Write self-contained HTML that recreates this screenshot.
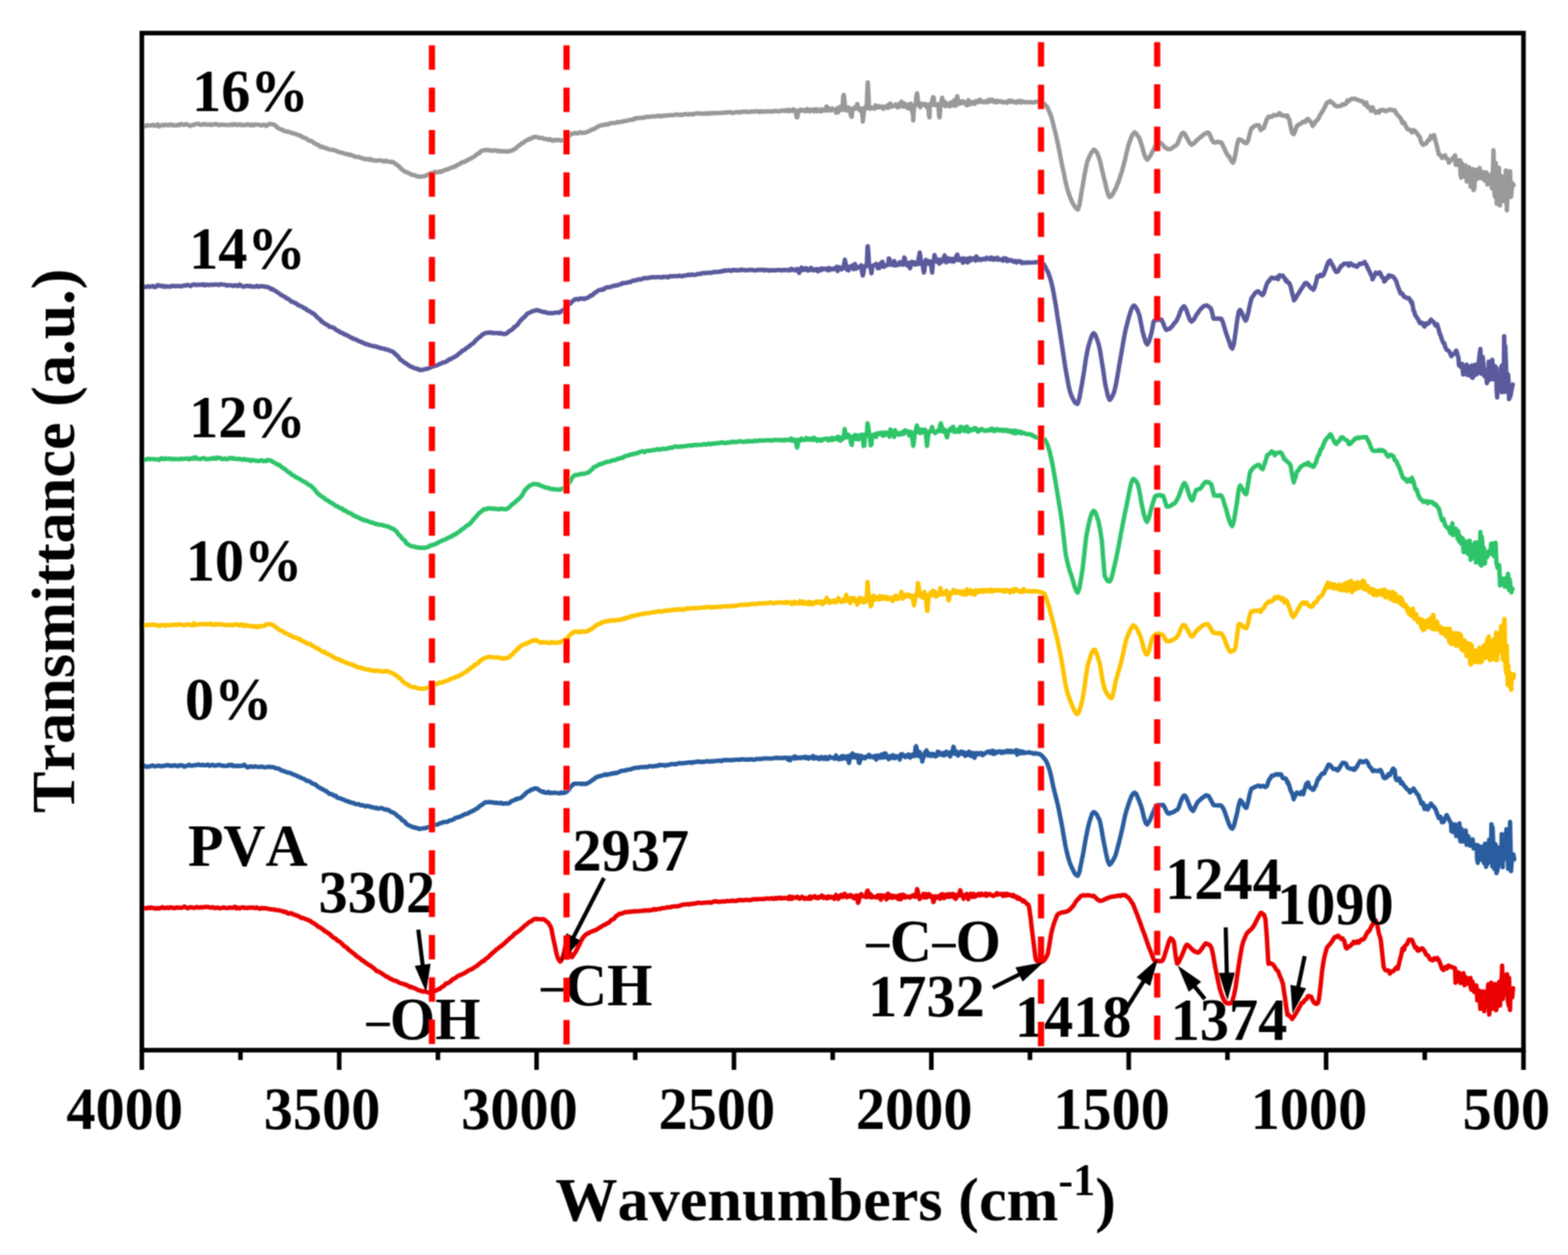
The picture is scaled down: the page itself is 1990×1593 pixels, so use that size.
<!DOCTYPE html>
<html><head><meta charset="utf-8"><title>FTIR spectra</title><style>
html,body{margin:0;padding:0;background:#fff;}svg{display:block}
text{font-family:"Liberation Serif","Times New Roman",serif;font-weight:bold;fill:#000;font-kerning:none}
</style></head><body>
<svg xmlns="http://www.w3.org/2000/svg" width="1990" height="1593" viewBox="0 0 1990 1593">
<rect x="0" y="0" width="1990" height="1593" fill="#fff"/>
<defs><filter id="soft" x="0" y="0" width="1990" height="1593" filterUnits="userSpaceOnUse"><feConvolveMatrix order="3" kernelMatrix="1 2 1 2 4 2 1 2 1" divisor="16" edgeMode="duplicate" preserveAlpha="false"/></filter></defs><g filter="url(#soft)">
<path d="M180.0 159.8 L182.0 158.9 L184.0 160.4 L186.0 159.0 L188.0 159.3 L190.0 159.3 L192.0 158.9 L194.0 158.4 L196.0 159.6 L198.0 159.3 L200.0 157.9 L202.0 160.4 L204.0 159.5 L206.0 158.4 L208.0 159.3 L210.0 158.4 L212.0 158.6 L214.0 159.1 L216.0 157.8 L218.0 158.9 L220.0 158.5 L222.0 159.3 L224.0 159.2 L226.0 158.2 L228.0 158.9 L230.0 157.3 L232.0 158.2 L234.0 158.5 L236.0 157.4 L238.0 158.1 L240.0 159.2 L242.0 159.7 L244.0 158.6 L246.0 158.6 L248.0 157.5 L250.0 157.3 L252.0 157.2 L254.0 158.3 L256.0 158.5 L258.0 157.6 L259.1 158.0 L260.0 157.3 L262.0 158.2 L264.0 158.2 L266.0 157.9 L268.0 158.8 L270.0 158.0 L272.0 158.0 L274.0 157.4 L276.0 158.2 L278.0 159.0 L280.0 158.2 L282.0 158.3 L284.0 158.5 L286.0 158.5 L288.0 158.6 L290.0 158.7 L292.0 158.8 L294.0 157.9 L296.0 158.6 L298.0 157.5 L300.0 158.5 L302.0 158.7 L304.0 157.8 L306.0 158.5 L308.0 158.9 L310.0 158.4 L312.0 158.7 L314.0 157.7 L316.0 158.2 L318.0 159.2 L320.0 158.1 L322.0 159.2 L324.0 158.0 L326.0 158.3 L328.0 158.2 L330.0 158.9 L332.0 159.2 L334.0 158.3 L336.0 158.8 L338.0 159.9 L338.3 158.9 L340.0 158.4 L342.0 157.3 L343.6 157.2 L344.0 157.4 L346.0 157.7 L348.0 158.6 L350.0 159.6 L352.0 162.1 L354.0 163.0 L355.9 164.2 L356.0 164.2 L358.0 164.6 L360.0 166.1 L362.0 166.5 L364.0 167.1 L366.0 167.2 L368.0 168.0 L370.0 168.7 L372.0 169.3 L373.5 169.5 L374.0 169.8 L376.0 170.4 L378.0 171.2 L380.0 171.9 L382.0 172.7 L384.0 174.2 L386.0 174.9 L388.0 175.3 L390.0 176.9 L391.0 177.4 L392.0 178.3 L394.0 178.8 L396.0 179.3 L398.0 181.0 L400.0 182.4 L402.0 183.3 L404.0 184.0 L406.0 185.8 L408.0 186.6 L408.6 186.2 L410.0 186.7 L412.0 187.7 L414.0 188.2 L416.0 188.9 L418.0 189.7 L420.0 190.0 L422.0 190.3 L424.0 190.6 L426.0 191.2 L426.2 191.5 L428.0 192.0 L430.0 193.1 L432.0 193.4 L434.0 193.9 L436.0 194.6 L438.0 195.1 L440.0 195.8 L442.0 195.8 L443.8 196.7 L444.0 196.1 L446.0 197.1 L448.0 197.4 L450.0 198.9 L452.0 198.9 L454.0 199.4 L456.0 199.4 L458.0 200.6 L460.0 200.7 L462.0 201.8 L464.0 202.1 L466.0 201.9 L468.0 202.7 L470.0 201.9 L470.2 202.9 L472.0 202.9 L474.0 203.8 L476.0 203.8 L478.0 203.8 L480.0 203.8 L482.0 203.5 L484.0 203.6 L486.0 204.3 L488.0 205.0 L490.0 203.8 L492.0 205.0 L494.0 205.3 L496.0 205.7 L496.6 205.5 L498.0 205.6 L500.0 206.6 L502.0 208.2 L504.0 209.4 L506.0 211.0 L508.0 212.9 L510.0 214.9 L512.0 216.6 L514.0 217.7 L514.2 217.8 L516.0 218.7 L518.0 219.4 L520.0 220.3 L522.0 221.7 L524.0 221.9 L525.0 222.2 L526.0 222.4 L528.0 223.2 L530.0 223.8 L532.0 224.2 L534.0 224.1 L535.6 224.0 L536.0 224.0 L538.0 223.8 L540.0 223.0 L542.0 222.5 L544.0 221.2 L546.0 220.4 L547.9 219.6 L548.0 219.6 L550.0 219.7 L552.0 218.1 L554.0 218.7 L556.0 218.5 L558.0 217.5 L558.4 217.8 L560.0 218.2 L562.0 216.8 L564.0 216.2 L566.0 215.2 L568.0 215.1 L570.0 214.1 L572.0 213.0 L574.0 212.5 L576.0 211.8 L577.8 210.8 L578.0 211.1 L580.0 209.9 L582.0 208.6 L584.0 207.8 L586.0 206.2 L588.0 205.7 L590.0 205.2 L592.0 204.0 L594.0 202.8 L596.0 201.6 L598.0 201.2 L598.9 200.2 L600.0 199.7 L602.0 198.6 L604.0 197.0 L606.0 195.2 L608.0 194.6 L610.0 192.3 L612.0 191.3 L614.0 190.8 L616.0 190.4 L616.5 190.6 L618.0 190.4 L620.0 190.5 L622.0 191.1 L624.0 190.9 L626.0 191.2 L628.0 190.7 L630.0 191.1 L632.0 192.0 L634.0 191.3 L636.0 192.3 L638.0 191.7 L640.0 192.3 L642.0 192.0 L644.0 192.4 L644.6 192.3 L646.0 191.8 L648.0 191.4 L650.0 191.1 L651.6 189.7 L652.0 189.4 L654.0 189.1 L656.0 186.9 L658.0 185.2 L660.0 184.0 L662.0 182.2 L664.0 181.4 L666.0 179.6 L668.0 178.4 L670.0 177.2 L671.0 176.5 L672.0 177.0 L674.0 175.6 L676.0 174.8 L678.0 173.8 L679.8 173.9 L680.0 173.6 L682.0 174.1 L684.0 174.7 L686.0 175.2 L688.0 175.0 L690.0 176.1 L692.0 176.5 L694.0 176.5 L696.0 177.4 L697.4 177.4 L698.0 176.7 L700.0 177.7 L702.0 178.6 L704.0 177.5 L706.0 178.0 L708.0 177.4 L710.0 177.9 L712.0 178.5 L714.0 177.9 L716.0 178.3 L716.7 178.3 L718.0 177.7 L720.0 175.5 L722.0 172.9 L724.0 170.5 L725.5 169.5 L726.0 169.8 L728.0 169.4 L730.0 168.7 L732.0 169.2 L734.0 169.0 L736.0 167.9 L738.0 168.6 L740.0 168.5 L742.0 168.4 L744.0 168.0 L744.8 167.7 L746.0 167.0 L748.0 166.5 L750.0 164.9 L752.0 164.3 L754.0 163.8 L756.0 162.2 L758.0 161.3 L758.9 160.7 L760.0 160.2 L762.0 159.4 L764.0 158.9 L766.0 158.8 L768.0 158.1 L770.0 157.7 L772.0 157.9 L774.0 156.6 L776.0 156.3 L778.0 156.2 L780.0 156.0 L782.0 155.7 L784.0 154.9 L786.0 155.1 L788.0 154.6 L788.8 154.5 L790.0 154.4 L792.0 153.5 L794.0 153.6 L796.0 153.2 L798.0 152.5 L800.0 152.2 L802.0 151.7 L804.0 152.0 L806.0 150.1 L808.0 150.3 L810.0 149.8 L812.0 149.9 L814.0 149.5 L816.0 149.3 L818.0 149.4 L820.0 148.3 L822.0 148.3 L824.0 148.4 L826.0 148.1 L828.0 147.6 L830.0 147.9 L832.0 147.7 L834.0 147.2 L836.0 146.7 L838.0 147.7 L840.0 147.1 L842.0 146.9 L844.0 146.7 L846.0 146.5 L848.0 146.6 L850.0 146.2 L852.0 145.9 L854.0 146.2 L856.0 145.9 L858.0 145.4 L860.0 145.3 L862.0 145.9 L864.0 145.6 L866.0 146.0 L868.0 145.0 L870.0 144.8 L872.0 145.1 L874.0 145.3 L875.0 144.8 L876.0 145.0 L878.0 144.8 L880.0 145.2 L882.0 144.2 L884.0 143.9 L886.0 144.0 L888.0 144.1 L890.0 144.3 L892.0 144.4 L894.0 144.1 L896.0 144.4 L898.0 143.5 L900.0 144.4 L902.0 143.4 L904.0 144.0 L906.0 143.2 L908.0 143.6 L910.0 143.4 L912.0 143.5 L914.0 143.5 L916.0 143.1 L918.0 143.1 L920.0 143.2 L922.0 142.5 L924.0 142.7 L926.0 142.3 L928.0 142.8 L930.0 143.5 L932.0 142.9 L934.0 142.3 L936.0 142.3 L938.0 142.8 L940.0 142.2 L940.3 142.4 L942.0 141.8 L944.0 141.9 L946.0 141.8 L948.0 141.8 L950.0 142.3 L952.0 142.0 L954.0 141.4 L956.0 141.7 L958.0 141.4 L960.0 141.3 L962.0 141.1 L964.0 142.2 L966.0 141.4 L968.0 141.6 L970.0 141.7 L972.0 141.2 L974.0 141.4 L976.0 141.4 L978.0 141.2 L980.0 141.8 L982.0 141.1 L984.0 140.8 L986.0 141.1 L988.0 141.4 L990.0 141.1 L991.0 140.6 L992.0 140.4 L993.0 140.7 L994.0 140.4 L995.0 140.4 L996.0 140.8 L997.0 140.9 L998.0 139.8 L999.0 140.5 L1000.0 139.5 L1001.0 141.1 L1002.0 141.3 L1003.0 139.8 L1004.0 140.0 L1005.0 139.6 L1006.0 140.8 L1007.0 138.9 L1008.0 139.4 L1009.0 139.8 L1009.7 140.4 L1010.0 142.0 L1011.0 148.7 L1011.7 149.0 L1012.0 148.5 L1013.0 141.7 L1013.7 140.3 L1014.0 140.4 L1015.0 139.5 L1016.0 140.6 L1017.0 139.2 L1018.0 139.8 L1019.0 140.1 L1020.0 140.6 L1021.0 140.0 L1022.0 141.2 L1023.0 140.2 L1024.0 138.4 L1025.0 140.9 L1026.0 139.8 L1027.0 139.4 L1028.0 141.4 L1029.0 139.1 L1030.0 140.0 L1031.0 140.0 L1032.0 139.3 L1033.0 141.2 L1034.0 139.6 L1035.0 140.1 L1036.0 138.6 L1037.0 141.2 L1038.0 138.9 L1039.0 140.7 L1040.0 140.8 L1041.0 140.9 L1042.0 141.4 L1043.0 138.7 L1044.0 140.0 L1045.0 139.7 L1046.0 139.9 L1047.0 140.4 L1047.4 139.4 L1048.0 138.6 L1049.0 135.2 L1049.4 135.5 L1050.0 136.2 L1051.0 140.3 L1051.4 139.3 L1052.0 138.2 L1053.0 139.3 L1054.0 138.4 L1055.0 140.2 L1056.0 137.7 L1057.0 138.8 L1058.0 139.0 L1059.0 139.1 L1060.0 139.0 L1061.0 143.0 L1062.0 141.6 L1063.0 137.2 L1064.0 142.6 L1065.0 136.9 L1066.0 135.7 L1067.0 136.3 L1068.0 139.1 L1068.9 138.7 L1069.0 139.4 L1070.0 124.4 L1070.9 120.5 L1071.0 121.4 L1072.0 130.4 L1072.9 138.5 L1073.0 139.7 L1074.0 137.8 L1075.0 140.0 L1076.0 139.4 L1077.0 136.3 L1078.0 140.8 L1078.5 138.3 L1079.0 140.1 L1080.0 147.3 L1080.5 147.5 L1081.0 148.2 L1082.0 138.0 L1082.5 138.2 L1083.0 138.0 L1084.0 136.7 L1085.0 136.5 L1086.0 138.0 L1087.0 135.4 L1088.0 132.0 L1089.0 135.5 L1090.0 137.9 L1091.0 140.1 L1092.0 140.1 L1092.9 137.8 L1093.0 137.8 L1094.0 142.8 L1094.9 149.0 L1095.0 154.4 L1096.0 146.1 L1096.9 137.6 L1097.0 137.4 L1098.0 136.0 L1099.0 136.8 L1099.3 137.5 L1100.0 137.5 L1101.0 109.4 L1101.3 104.5 L1102.0 115.7 L1103.0 136.9 L1103.3 137.3 L1104.0 138.0 L1105.0 136.8 L1106.0 137.5 L1107.0 136.7 L1108.0 137.3 L1109.0 136.9 L1110.0 137.9 L1111.0 133.8 L1112.0 136.3 L1113.0 136.4 L1114.0 134.9 L1115.0 136.4 L1116.0 134.8 L1117.0 135.4 L1118.0 135.9 L1119.0 135.9 L1120.0 135.3 L1121.0 138.0 L1122.0 136.4 L1123.0 136.5 L1124.0 136.2 L1125.0 134.6 L1126.0 134.1 L1127.0 137.0 L1128.0 134.8 L1129.0 132.3 L1130.0 131.5 L1131.0 135.5 L1132.0 133.8 L1133.0 134.9 L1134.0 134.0 L1135.0 134.1 L1136.0 134.4 L1137.0 132.5 L1138.0 134.6 L1139.0 136.2 L1140.0 134.5 L1141.0 135.7 L1142.0 131.5 L1142.4 134.4 L1143.0 131.4 L1144.0 129.1 L1144.4 131.0 L1145.0 131.3 L1146.0 135.4 L1146.4 134.3 L1147.0 134.8 L1148.0 131.3 L1149.0 134.3 L1150.0 135.5 L1151.0 133.3 L1152.0 137.3 L1153.0 132.9 L1154.0 135.9 L1155.0 137.9 L1156.0 131.7 L1156.9 133.9 L1157.0 133.4 L1158.0 142.7 L1158.9 147.5 L1159.0 152.9 L1160.0 136.6 L1160.9 133.7 L1161.0 134.7 L1161.7 133.7 L1162.0 133.3 L1163.0 122.4 L1163.7 119.0 L1164.0 118.5 L1165.0 128.5 L1165.7 133.5 L1166.0 133.0 L1167.0 131.4 L1168.0 136.2 L1169.0 131.6 L1170.0 132.7 L1171.0 132.2 L1172.0 132.6 L1173.0 133.4 L1174.0 131.9 L1175.0 132.7 L1176.0 136.0 L1177.0 134.9 L1177.7 133.1 L1178.0 133.6 L1179.0 146.1 L1179.7 149.0 L1180.0 133.0 L1181.0 131.6 L1181.7 132.9 L1182.0 133.3 L1182.5 132.9 L1183.0 129.0 L1184.0 123.4 L1184.5 124.0 L1185.0 123.9 L1186.0 133.4 L1186.5 132.7 L1187.0 133.1 L1188.0 133.5 L1189.0 132.8 L1190.0 133.1 L1190.5 132.5 L1191.0 135.8 L1192.0 147.7 L1192.5 149.0 L1193.0 143.0 L1193.7 132.3 L1194.0 130.7 L1194.5 132.3 L1195.0 127.8 L1195.7 124.0 L1196.0 126.6 L1197.0 132.2 L1197.7 132.1 L1198.0 133.1 L1199.0 129.3 L1200.0 134.8 L1201.0 132.6 L1202.0 132.0 L1203.0 132.1 L1204.0 131.4 L1205.0 135.0 L1206.0 134.8 L1207.0 130.1 L1208.0 131.5 L1209.0 132.3 L1210.0 133.8 L1211.0 127.4 L1212.0 133.0 L1212.9 131.4 L1213.0 134.1 L1214.0 125.4 L1214.9 122.0 L1215.0 122.0 L1216.0 129.4 L1216.9 131.2 L1217.0 131.8 L1218.0 128.8 L1219.0 129.1 L1220.0 131.0 L1221.0 129.2 L1222.0 128.4 L1223.0 130.8 L1224.0 129.8 L1225.0 130.7 L1226.0 131.8 L1227.0 133.6 L1228.0 130.8 L1229.0 127.2 L1230.0 132.7 L1231.0 130.0 L1232.0 132.1 L1233.0 129.3 L1234.0 130.5 L1235.0 129.6 L1236.0 129.7 L1237.0 131.9 L1238.0 128.5 L1239.0 129.8 L1240.0 129.7 L1241.0 129.0 L1242.0 127.3 L1243.0 129.5 L1244.0 126.6 L1245.0 127.7 L1246.0 128.6 L1247.0 129.3 L1248.0 129.7 L1249.0 129.6 L1250.0 129.3 L1251.0 128.4 L1252.0 129.8 L1253.0 128.4 L1254.0 129.6 L1255.0 126.5 L1256.0 127.7 L1257.0 128.0 L1258.0 128.5 L1259.0 126.3 L1260.0 128.5 L1261.0 129.2 L1262.0 129.4 L1263.0 129.2 L1264.0 128.0 L1265.0 129.8 L1266.0 128.1 L1267.0 129.4 L1268.0 128.5 L1269.0 128.6 L1270.0 128.5 L1271.0 128.6 L1272.0 129.7 L1273.0 130.0 L1274.0 130.0 L1275.0 129.6 L1276.0 129.4 L1277.0 129.3 L1278.0 130.5 L1279.0 128.5 L1280.0 128.4 L1281.0 129.1 L1282.0 127.6 L1283.0 128.9 L1284.0 129.1 L1285.0 128.2 L1286.0 128.7 L1287.0 129.9 L1288.0 129.1 L1289.0 129.4 L1290.0 130.3 L1291.0 128.8 L1292.0 128.4 L1293.0 129.4 L1294.0 129.8 L1295.0 127.9 L1296.0 130.1 L1297.0 129.2 L1298.0 129.2 L1299.0 128.8 L1300.0 129.5 L1302.0 129.9 L1302.9 129.6 L1304.0 129.8 L1306.0 129.8 L1308.0 129.5 L1310.0 130.1 L1312.0 130.0 L1314.0 129.6 L1316.0 128.8 L1318.0 129.6 L1320.0 130.4 L1320.5 129.6 L1322.0 129.8 L1324.0 130.6 L1326.0 133.0 L1327.6 134.0 L1328.0 134.2 L1330.0 137.9 L1332.0 142.7 L1332.8 144.5 L1334.0 147.4 L1336.0 154.7 L1338.0 162.9 L1340.0 170.9 L1341.6 177.9 L1342.0 179.9 L1344.0 189.2 L1346.0 199.8 L1348.0 210.2 L1348.7 213.1 L1350.0 219.2 L1352.0 229.3 L1354.0 237.7 L1356.0 244.5 L1358.0 250.1 L1360.0 254.9 L1361.0 257.1 L1362.0 258.8 L1364.0 262.2 L1366.0 264.7 L1368.0 266.0 L1370.0 260.0 L1372.0 247.5 L1373.3 239.5 L1374.0 236.1 L1376.0 224.5 L1378.0 213.6 L1380.0 204.7 L1380.3 204.3 L1382.0 200.1 L1384.0 195.9 L1386.0 192.6 L1388.0 190.0 L1389.1 190.2 L1390.0 191.1 L1392.0 193.3 L1394.0 198.1 L1394.4 199.0 L1396.0 204.2 L1398.0 212.8 L1400.0 221.4 L1401.4 227.2 L1402.0 229.3 L1404.0 238.0 L1406.0 245.7 L1408.0 250.1 L1408.5 250.0 L1410.0 249.3 L1412.0 246.7 L1414.0 242.7 L1416.0 239.3 L1417.3 236.0 L1418.0 234.0 L1420.0 229.5 L1422.0 223.2 L1424.0 216.7 L1426.0 209.6 L1428.0 201.9 L1430.0 193.2 L1432.0 184.8 L1433.1 181.5 L1434.0 179.3 L1436.0 173.5 L1438.0 170.0 L1440.0 168.0 L1440.1 168.3 L1442.0 169.4 L1444.0 172.6 L1445.4 174.4 L1446.0 175.5 L1448.0 181.3 L1450.0 187.9 L1452.0 195.2 L1454.0 200.3 L1456.0 202.6 L1458.0 200.4 L1460.0 197.6 L1462.0 193.7 L1463.0 192.0 L1464.0 190.2 L1466.0 185.6 L1468.0 181.4 L1470.0 179.7 L1472.0 180.7 L1474.0 182.3 L1476.0 184.3 L1478.0 186.9 L1480.0 187.9 L1482.0 189.3 L1482.3 189.4 L1484.0 189.2 L1486.0 189.0 L1488.0 187.4 L1490.0 185.9 L1492.0 184.9 L1492.9 184.1 L1494.0 183.3 L1496.0 178.5 L1498.0 173.6 L1500.0 169.6 L1501.7 168.3 L1502.0 168.4 L1504.0 170.5 L1506.0 174.3 L1508.0 178.1 L1510.0 181.5 L1512.0 183.7 L1512.2 183.2 L1514.0 182.7 L1516.0 181.1 L1518.0 178.9 L1520.0 176.9 L1521.0 176.2 L1522.0 175.5 L1524.0 173.7 L1526.0 172.2 L1528.0 170.5 L1530.0 169.4 L1532.0 168.3 L1533.3 168.3 L1534.0 168.6 L1536.0 172.4 L1538.0 177.4 L1540.0 180.5 L1540.4 180.6 L1542.0 181.0 L1544.0 180.3 L1546.0 180.0 L1548.0 180.8 L1549.2 180.6 L1550.0 180.9 L1552.0 184.6 L1554.0 189.1 L1556.0 193.1 L1556.2 193.8 L1558.0 196.9 L1560.0 198.8 L1562.0 202.8 L1564.0 206.0 L1564.8 206.5 L1566.0 204.3 L1568.0 195.3 L1570.0 183.7 L1572.0 177.3 L1572.4 176.9 L1574.0 177.6 L1576.0 178.0 L1578.0 179.8 L1580.0 181.3 L1582.0 181.7 L1584.0 178.4 L1586.0 170.3 L1588.0 163.3 L1588.6 162.6 L1590.0 161.9 L1592.0 160.0 L1594.0 159.1 L1596.0 158.8 L1596.3 158.7 L1598.0 159.4 L1600.0 165.2 L1602.0 163.5 L1604.0 162.4 L1606.0 156.5 L1608.0 150.8 L1609.6 149.2 L1610.0 147.9 L1612.0 148.5 L1614.0 148.1 L1616.0 146.3 L1618.0 146.0 L1620.0 146.4 L1622.0 145.5 L1624.0 143.6 L1625.0 145.4 L1626.0 146.1 L1628.0 146.1 L1630.0 147.3 L1632.0 146.8 L1634.0 146.7 L1634.5 149.2 L1636.0 151.1 L1638.0 160.3 L1640.0 168.9 L1641.2 168.3 L1642.0 170.3 L1644.0 165.4 L1646.0 159.7 L1647.8 158.7 L1648.0 158.2 L1650.0 157.5 L1652.0 156.1 L1654.0 154.6 L1656.0 155.0 L1658.0 152.2 L1659.3 153.0 L1660.0 151.0 L1662.0 153.5 L1664.0 155.0 L1666.0 159.8 L1667.0 157.8 L1668.0 157.3 L1670.0 153.8 L1672.0 152.3 L1674.0 149.2 L1674.6 147.3 L1676.0 145.2 L1678.0 141.8 L1680.0 138.8 L1682.0 134.7 L1684.0 130.4 L1686.0 129.6 L1688.0 128.2 L1690.0 129.9 L1692.0 131.1 L1694.0 133.7 L1696.0 135.0 L1697.5 134.9 L1698.0 134.7 L1700.0 134.4 L1702.0 134.4 L1704.0 132.2 L1706.0 132.8 L1708.0 131.8 L1709.0 130.1 L1710.0 127.6 L1712.0 128.3 L1714.0 126.2 L1716.0 125.3 L1718.0 125.5 L1718.5 125.3 L1720.0 125.3 L1722.0 126.5 L1724.0 127.0 L1726.0 128.1 L1728.0 128.0 L1730.0 129.7 L1731.9 131.1 L1732.0 132.6 L1734.0 130.2 L1736.0 136.3 L1738.0 136.1 L1740.0 140.6 L1742.0 136.2 L1744.0 140.7 L1745.2 141.6 L1746.0 143.0 L1748.0 141.7 L1750.0 143.0 L1752.0 139.7 L1754.0 139.9 L1756.0 139.5 L1758.0 141.1 L1760.0 140.8 L1762.0 139.6 L1764.0 139.2 L1766.0 139.1 L1766.2 139.6 L1768.0 140.2 L1770.0 140.1 L1772.0 143.8 L1774.0 146.2 L1776.0 148.2 L1777.7 151.1 L1778.0 150.5 L1780.0 156.2 L1782.0 155.4 L1784.0 159.7 L1786.0 163.6 L1788.0 164.7 L1789.1 164.5 L1790.0 165.2 L1792.0 168.0 L1794.0 165.1 L1796.0 166.4 L1798.0 169.0 L1798.7 170.2 L1800.0 171.3 L1802.0 174.6 L1804.0 181.3 L1806.0 183.9 L1808.0 182.5 L1808.2 182.6 L1810.0 182.3 L1812.0 178.5 L1814.0 177.8 L1816.0 172.5 L1818.0 175.0 L1819.7 172.1 L1820.0 171.4 L1822.0 179.7 L1824.0 186.7 L1825.4 193.1 L1826.0 196.1 L1828.0 196.8 L1830.0 200.3 L1832.0 198.5 L1834.0 197.2 L1835.0 200.8 L1836.0 200.8 L1838.0 203.1 L1838.8 206.5 L1846.8 197.3 L1847.4 209.0 L1849.0 209.3 L1851.2 203.3 L1853.2 203.6 L1853.4 220.2 L1854.4 225.5 L1855.6 207.2 L1857.8 223.8 L1860.0 211.9 L1860.2 210.0 L1861.4 230.4 L1862.2 228.8 L1864.4 212.3 L1866.6 237.3 L1868.8 221.2 L1869.0 214.5 L1870.2 241.4 L1871.0 239.2 L1873.2 215.5 L1875.4 226.8 L1877.6 214.2 L1877.8 213.2 L1879.0 225.7 L1879.8 226.2 L1882.0 218.1 L1884.2 229.2 L1886.4 222.0 L1886.6 218.8 L1887.8 234.3 L1888.6 232.3 L1890.8 223.0 L1892.4 221.5 L1893.0 235.6 L1893.6 239.1 L1895.2 204.2 L1895.4 190.9 L1896.6 245.8 L1897.4 249.8 L1898.4 207.1 L1899.6 258.8 L1901.8 225.7 L1902.4 213.1 L1903.6 260.8 L1904.0 250.4 L1906.2 223.8 L1908.4 255.2 L1910.6 229.5 L1911.2 216.4 L1912.4 267.0 L1912.8 257.6 L1915.0 225.8 L1916.5 217.4 L1917.2 245.1 L1917.7 250.0 L1919.4 232.5 L1920.9 235.0" fill="none" stroke="#999999" stroke-width="5.6" stroke-linejoin="round" stroke-linecap="round"/>
<path d="M180.0 364.0 L182.0 364.9 L184.0 364.1 L186.0 364.0 L188.0 363.4 L190.0 364.1 L192.0 363.6 L194.0 363.0 L196.0 364.4 L198.0 364.0 L200.0 361.9 L202.0 362.4 L204.0 363.3 L206.0 362.6 L208.0 364.1 L210.0 363.4 L212.0 363.6 L214.0 363.7 L216.0 363.9 L218.0 362.9 L220.0 363.0 L222.0 363.3 L224.0 363.0 L226.0 363.3 L228.0 363.1 L230.0 363.5 L232.0 362.9 L234.0 362.2 L236.0 362.4 L238.0 361.6 L240.0 362.4 L242.0 363.0 L244.0 361.6 L246.0 360.9 L248.0 361.8 L250.0 361.4 L252.0 361.6 L254.0 361.2 L256.0 361.6 L258.0 360.8 L260.0 362.3 L262.0 361.2 L264.0 361.6 L266.0 361.8 L267.9 361.3 L268.0 361.2 L270.0 361.6 L272.0 361.2 L274.0 361.1 L276.0 361.3 L278.0 361.8 L280.0 360.8 L282.0 361.1 L284.0 361.3 L286.0 361.5 L288.0 362.7 L290.0 362.0 L292.0 362.0 L294.0 362.3 L296.0 363.0 L298.0 362.0 L300.0 362.5 L302.0 363.2 L304.0 361.2 L306.0 362.2 L308.0 363.7 L310.0 363.8 L312.0 363.0 L314.0 362.7 L316.0 363.5 L318.0 362.8 L320.0 364.0 L322.0 363.9 L324.0 363.7 L326.0 362.8 L328.0 364.0 L330.0 363.3 L332.0 363.4 L334.0 363.5 L336.0 363.8 L338.0 364.3 L338.3 364.0 L340.0 364.6 L342.0 365.2 L344.0 367.1 L346.0 366.9 L348.0 368.7 L350.0 369.5 L352.0 371.0 L354.0 372.1 L355.9 373.6 L356.0 374.1 L358.0 374.9 L360.0 376.1 L362.0 377.2 L364.0 378.8 L366.0 379.5 L368.0 381.0 L370.0 383.0 L372.0 383.3 L373.5 384.2 L374.0 384.3 L376.0 385.3 L378.0 387.1 L380.0 387.9 L382.0 388.7 L384.0 389.7 L386.0 391.1 L388.0 391.9 L390.0 394.1 L392.0 394.5 L394.0 395.8 L396.0 397.2 L396.3 397.4 L398.0 398.1 L400.0 399.9 L402.0 402.1 L404.0 404.1 L406.0 405.4 L408.0 408.1 L408.6 407.9 L410.0 409.1 L412.0 410.7 L414.0 411.9 L416.0 412.6 L418.0 414.7 L420.0 415.0 L422.0 415.4 L424.0 416.4 L426.0 418.3 L428.0 419.6 L429.7 420.2 L430.0 420.4 L432.0 422.1 L434.0 422.4 L436.0 423.7 L438.0 424.8 L440.0 425.2 L442.0 426.6 L444.0 427.6 L446.0 428.8 L447.3 429.0 L448.0 429.8 L450.0 430.6 L452.0 430.9 L454.0 432.3 L456.0 433.3 L458.0 433.8 L460.0 434.9 L462.0 435.7 L464.0 436.7 L466.0 437.0 L468.0 437.9 L468.4 437.8 L470.0 438.4 L472.0 439.0 L474.0 439.2 L476.0 439.8 L478.0 440.0 L480.0 440.8 L482.0 441.6 L484.0 442.0 L486.0 442.5 L488.0 442.7 L490.0 443.8 L492.0 443.8 L494.0 444.9 L496.0 445.6 L496.6 445.7 L498.0 446.2 L500.0 447.6 L502.0 449.7 L504.0 451.3 L506.0 453.4 L508.0 456.4 L510.0 457.5 L512.0 459.1 L514.0 460.8 L514.2 460.7 L516.0 461.7 L518.0 463.2 L520.0 464.7 L522.0 465.3 L524.0 466.5 L525.0 466.9 L526.0 467.2 L528.0 468.0 L530.0 468.0 L532.0 469.7 L534.0 469.4 L535.6 469.5 L536.0 469.7 L538.0 468.9 L540.0 468.4 L542.0 468.2 L544.0 467.3 L546.0 466.8 L548.0 465.4 L549.6 465.1 L550.0 464.6 L552.0 464.4 L554.0 463.8 L556.0 463.1 L558.0 462.0 L560.0 461.3 L562.0 460.1 L564.0 460.0 L566.0 459.0 L568.0 458.1 L570.0 456.1 L572.0 456.0 L572.5 455.4 L574.0 454.4 L576.0 453.6 L578.0 452.3 L580.0 451.2 L582.0 449.3 L584.0 447.8 L586.0 446.1 L588.0 444.6 L590.0 443.7 L592.0 441.7 L594.0 440.8 L595.3 439.6 L596.0 439.0 L598.0 437.3 L600.0 436.1 L602.0 434.2 L604.0 431.7 L606.0 430.1 L608.0 428.3 L610.0 426.9 L612.0 424.9 L614.0 423.7 L616.0 422.8 L618.0 422.5 L620.0 422.0 L622.0 422.4 L624.0 422.0 L626.0 423.0 L628.0 422.8 L630.0 422.7 L632.0 422.7 L634.0 423.3 L636.0 422.8 L638.0 423.9 L639.3 423.8 L640.0 424.0 L642.0 423.7 L644.0 422.5 L646.0 420.4 L648.0 419.4 L650.0 418.2 L651.6 416.7 L652.0 415.7 L654.0 414.4 L656.0 412.9 L658.0 410.5 L660.0 407.5 L662.0 405.6 L664.0 403.5 L666.0 402.1 L668.0 399.4 L670.0 397.7 L671.0 397.4 L672.0 397.0 L674.0 395.9 L676.0 395.0 L678.0 394.6 L679.8 393.9 L680.0 393.9 L682.0 393.6 L684.0 394.4 L686.0 394.8 L688.0 395.6 L690.0 396.1 L692.0 396.1 L694.0 397.1 L696.0 397.5 L698.0 397.3 L699.1 397.4 L700.0 397.7 L702.0 397.3 L704.0 397.1 L706.0 396.7 L708.0 396.7 L710.0 396.9 L711.4 395.6 L712.0 395.5 L714.0 394.0 L716.0 392.8 L718.0 390.7 L720.0 388.8 L722.0 386.4 L724.0 385.2 L726.0 382.6 L728.0 381.5 L730.0 379.7 L730.8 379.8 L732.0 379.6 L734.0 380.2 L736.0 378.8 L738.0 379.4 L740.0 378.7 L742.0 379.6 L743.1 378.9 L744.0 378.3 L746.0 377.9 L748.0 376.8 L750.0 374.8 L752.0 374.7 L754.0 372.2 L756.0 371.4 L758.0 369.4 L758.9 369.2 L760.0 368.3 L762.0 368.1 L764.0 367.4 L766.0 367.6 L768.0 365.6 L770.0 364.8 L772.0 364.6 L774.0 364.4 L776.0 363.9 L778.0 362.9 L780.0 362.6 L782.0 362.4 L784.0 362.1 L786.0 361.0 L788.0 360.8 L788.8 360.5 L790.0 359.2 L792.0 359.3 L794.0 359.3 L796.0 358.6 L798.0 358.0 L800.0 358.1 L802.0 356.9 L804.0 356.0 L806.0 356.0 L808.0 355.5 L810.0 354.5 L812.0 354.8 L814.0 354.7 L816.0 353.5 L818.0 353.0 L820.0 353.0 L822.0 353.2 L824.0 352.5 L826.0 352.1 L828.0 351.9 L830.0 351.8 L832.0 352.0 L834.0 351.8 L836.0 351.6 L838.0 351.9 L840.0 352.2 L842.0 351.1 L844.0 351.6 L846.0 351.2 L848.0 352.1 L850.0 350.6 L852.0 350.7 L854.0 350.8 L856.0 350.2 L858.0 350.5 L860.0 350.7 L862.0 349.9 L864.0 350.3 L866.0 350.7 L868.0 349.8 L870.0 349.8 L872.0 349.3 L874.0 348.6 L876.0 349.2 L878.0 348.4 L880.0 348.9 L882.0 349.0 L884.0 348.4 L886.0 347.6 L888.0 347.8 L890.0 347.2 L892.0 346.6 L894.0 346.6 L896.0 346.6 L898.0 346.1 L900.0 346.2 L902.0 346.5 L904.0 345.7 L905.2 345.4 L906.0 345.6 L908.0 344.9 L910.0 345.4 L912.0 344.9 L914.0 344.9 L916.0 344.1 L918.0 344.2 L920.0 343.1 L922.0 343.6 L924.0 343.3 L926.0 343.1 L928.0 343.9 L930.0 342.6 L932.0 343.0 L934.0 342.9 L936.0 343.1 L938.0 343.2 L940.0 342.2 L940.3 342.8 L942.0 342.6 L944.0 342.6 L946.0 343.1 L948.0 343.1 L950.0 342.7 L952.0 342.6 L954.0 342.5 L956.0 342.9 L958.0 343.4 L960.0 342.9 L962.0 342.6 L964.0 342.5 L966.0 342.6 L968.0 342.2 L970.0 343.4 L972.0 342.8 L974.0 342.7 L976.0 343.6 L978.0 342.9 L980.0 343.3 L982.0 342.9 L984.0 343.2 L986.0 342.8 L988.0 342.7 L990.0 342.9 L991.0 343.1 L992.0 343.2 L993.0 342.8 L994.0 342.9 L995.0 342.7 L996.0 342.6 L997.0 342.9 L998.0 342.6 L999.0 342.6 L1000.0 343.2 L1001.0 343.2 L1002.0 343.1 L1003.0 341.9 L1004.0 341.3 L1005.0 342.8 L1006.0 342.6 L1007.0 342.1 L1008.0 342.6 L1009.0 343.2 L1010.0 342.2 L1011.0 342.8 L1012.0 341.5 L1012.2 342.4 L1013.0 343.6 L1014.0 345.6 L1014.2 346.5 L1015.0 343.7 L1016.0 342.8 L1016.2 342.3 L1017.0 339.7 L1018.0 342.2 L1019.0 342.9 L1020.0 342.5 L1021.0 340.7 L1022.0 342.3 L1023.0 340.5 L1024.0 341.3 L1025.0 343.4 L1026.0 342.2 L1027.0 343.1 L1028.0 341.1 L1029.0 340.2 L1030.0 342.0 L1031.0 341.3 L1032.0 343.1 L1033.0 342.8 L1034.0 342.9 L1035.0 341.7 L1036.0 341.8 L1037.0 341.6 L1038.0 344.4 L1039.0 341.8 L1040.0 343.3 L1041.0 341.6 L1042.0 342.9 L1043.0 340.7 L1044.0 341.2 L1045.0 341.9 L1046.0 341.1 L1047.0 341.2 L1048.0 341.4 L1049.0 341.0 L1050.0 342.8 L1051.0 342.4 L1052.0 340.1 L1053.0 342.9 L1054.0 341.2 L1055.0 341.2 L1056.0 341.1 L1057.0 341.9 L1058.0 341.8 L1059.0 340.6 L1060.0 341.0 L1061.0 341.1 L1062.0 338.7 L1063.0 344.1 L1064.0 339.4 L1065.0 339.3 L1066.0 339.6 L1067.0 340.9 L1068.0 341.9 L1069.0 339.9 L1070.0 340.4 L1070.2 340.2 L1071.0 335.9 L1072.0 332.1 L1072.2 329.6 L1073.0 333.7 L1074.0 336.8 L1074.2 339.9 L1075.0 342.5 L1076.0 340.5 L1077.0 343.2 L1078.0 338.8 L1079.0 338.9 L1080.0 339.4 L1081.0 337.2 L1082.0 338.8 L1083.0 341.5 L1084.0 340.4 L1085.0 335.0 L1086.0 341.2 L1087.0 339.5 L1088.0 340.2 L1089.0 338.8 L1090.0 339.0 L1091.0 338.7 L1092.0 338.7 L1093.0 336.8 L1093.1 338.5 L1094.0 344.9 L1095.0 349.7 L1095.1 349.3 L1096.0 345.3 L1097.0 339.0 L1097.1 338.2 L1098.0 337.7 L1099.0 338.0 L1099.3 338.1 L1100.0 338.0 L1101.0 313.7 L1101.3 312.5 L1102.0 320.1 L1103.0 336.8 L1103.3 337.8 L1103.7 337.7 L1104.0 337.8 L1105.0 340.1 L1105.7 345.0 L1106.0 346.9 L1107.0 339.4 L1107.7 337.4 L1108.0 337.4 L1109.0 336.7 L1110.0 336.1 L1111.0 336.3 L1112.0 335.0 L1113.0 335.9 L1114.0 340.4 L1115.0 338.8 L1116.0 340.2 L1117.0 335.7 L1118.0 333.6 L1119.0 334.4 L1120.0 332.2 L1121.0 338.5 L1122.0 338.7 L1123.0 336.7 L1124.0 337.1 L1125.0 337.0 L1126.0 336.0 L1126.5 336.0 L1127.0 336.1 L1128.0 328.0 L1128.5 328.5 L1129.0 328.9 L1130.0 334.4 L1130.5 335.7 L1131.0 332.9 L1132.0 334.0 L1133.0 336.4 L1134.0 336.2 L1135.0 331.3 L1136.0 337.0 L1137.0 335.9 L1138.0 336.5 L1139.0 335.0 L1140.0 335.0 L1141.0 336.0 L1142.0 332.8 L1143.0 334.5 L1144.0 333.0 L1145.0 333.9 L1145.7 334.6 L1146.0 336.1 L1147.0 331.9 L1147.7 326.9 L1148.0 327.5 L1149.0 331.5 L1149.7 334.3 L1150.0 335.7 L1151.0 335.0 L1152.0 337.4 L1152.9 334.0 L1153.0 335.2 L1154.0 333.8 L1154.9 340.5 L1155.0 340.6 L1156.0 336.2 L1156.9 333.7 L1157.0 332.4 L1158.0 333.9 L1159.0 333.7 L1160.0 332.9 L1161.0 336.0 L1162.0 334.1 L1163.0 334.1 L1164.0 333.6 L1165.0 335.3 L1165.2 333.1 L1166.0 326.8 L1167.0 323.0 L1167.2 320.5 L1168.0 324.5 L1169.0 335.1 L1169.2 332.8 L1170.0 335.2 L1170.5 332.7 L1171.0 335.7 L1172.0 343.2 L1172.5 346.0 L1173.0 344.4 L1174.0 335.2 L1174.5 332.4 L1175.0 329.9 L1176.0 331.7 L1177.0 331.0 L1178.0 334.5 L1179.0 335.0 L1180.0 332.0 L1181.0 331.9 L1182.0 337.8 L1183.0 346.0 L1184.0 331.8 L1185.0 331.8 L1186.0 323.7 L1187.0 326.8 L1188.0 331.6 L1189.0 329.4 L1190.0 332.1 L1191.0 333.0 L1192.0 334.6 L1193.0 329.4 L1194.0 333.1 L1195.0 331.2 L1196.0 330.1 L1196.9 331.2 L1197.0 330.6 L1198.0 326.0 L1198.9 324.3 L1199.0 325.2 L1200.0 328.2 L1200.9 331.0 L1201.0 333.0 L1202.0 330.1 L1203.0 327.8 L1204.0 329.3 L1205.0 331.5 L1206.0 328.4 L1207.0 329.6 L1208.0 331.7 L1209.0 328.5 L1210.0 332.1 L1211.0 331.2 L1212.0 329.5 L1212.7 330.4 L1213.0 329.9 L1214.0 324.5 L1214.7 323.4 L1215.0 323.2 L1216.0 327.7 L1216.7 330.2 L1217.0 330.2 L1218.0 330.0 L1219.0 328.8 L1220.0 330.0 L1221.0 328.3 L1222.0 333.5 L1223.0 328.0 L1224.0 329.6 L1225.0 331.8 L1226.0 331.4 L1227.0 328.5 L1228.0 333.1 L1229.0 332.6 L1230.0 329.0 L1231.0 327.4 L1232.0 330.5 L1233.0 329.1 L1234.0 328.9 L1235.0 327.9 L1236.0 328.2 L1237.0 329.5 L1238.0 330.7 L1239.0 325.6 L1240.0 326.9 L1241.0 329.9 L1242.0 328.2 L1243.0 329.5 L1244.0 329.0 L1245.0 330.0 L1246.0 329.6 L1247.0 328.5 L1248.0 328.6 L1249.0 329.0 L1250.0 329.3 L1251.0 328.1 L1252.0 327.3 L1253.0 328.7 L1254.0 328.5 L1255.0 328.4 L1256.0 327.7 L1257.0 329.1 L1258.0 327.0 L1259.0 328.1 L1260.0 328.5 L1261.0 329.7 L1262.0 327.6 L1263.0 329.0 L1264.0 329.0 L1265.0 329.1 L1266.0 327.2 L1267.0 329.7 L1268.0 329.0 L1269.0 329.4 L1270.0 329.4 L1271.0 329.3 L1272.0 330.4 L1273.0 330.8 L1274.0 327.9 L1275.0 329.0 L1276.0 329.7 L1277.0 328.1 L1278.0 331.5 L1279.0 329.6 L1280.0 331.0 L1281.0 330.8 L1282.0 330.6 L1283.0 330.0 L1284.0 330.8 L1285.0 331.3 L1286.0 332.1 L1287.0 331.4 L1288.0 331.4 L1289.0 331.6 L1290.0 333.2 L1291.0 332.4 L1292.0 331.7 L1293.0 331.3 L1294.0 332.2 L1295.0 331.9 L1296.0 332.4 L1297.0 334.1 L1298.0 333.6 L1299.0 333.3 L1300.0 333.3 L1302.0 333.8 L1304.0 333.0 L1306.0 333.5 L1306.5 333.4 L1308.0 333.3 L1310.0 333.3 L1312.0 333.1 L1314.0 332.8 L1316.0 332.9 L1318.0 331.9 L1320.0 332.6 L1320.5 332.5 L1322.0 333.2 L1324.0 334.7 L1326.0 337.6 L1327.6 340.5 L1328.0 341.8 L1330.0 345.2 L1332.0 350.9 L1334.0 357.4 L1334.6 359.8 L1336.0 365.6 L1338.0 376.4 L1340.0 388.1 L1341.6 398.5 L1342.0 401.6 L1344.0 413.3 L1346.0 426.7 L1348.0 439.7 L1348.7 444.2 L1350.0 453.1 L1352.0 466.1 L1354.0 477.6 L1356.0 488.3 L1358.0 497.2 L1359.2 500.5 L1360.0 502.7 L1362.0 506.8 L1364.0 510.6 L1366.0 512.0 L1367.1 512.8 L1368.0 512.1 L1370.0 504.7 L1372.0 493.5 L1373.3 486.4 L1374.0 482.2 L1376.0 470.1 L1378.0 456.0 L1380.0 445.6 L1380.3 444.2 L1382.0 437.2 L1384.0 430.7 L1386.0 425.3 L1388.0 422.9 L1388.2 423.1 L1390.0 424.6 L1392.0 430.1 L1394.0 435.9 L1394.4 437.2 L1396.0 444.3 L1398.0 456.9 L1399.7 467.1 L1400.0 468.6 L1402.0 483.5 L1403.2 489.9 L1404.0 493.5 L1406.0 502.1 L1408.0 507.1 L1408.5 507.5 L1410.0 506.0 L1412.0 502.4 L1413.7 498.7 L1414.0 497.6 L1416.0 489.5 L1418.0 478.5 L1420.0 466.6 L1420.8 461.8 L1422.0 455.1 L1424.0 443.5 L1426.0 431.8 L1428.0 421.0 L1429.6 414.3 L1430.0 412.9 L1432.0 405.1 L1434.0 398.2 L1436.0 392.1 L1438.0 388.6 L1439.2 387.9 L1440.0 388.2 L1442.0 390.7 L1444.0 394.8 L1445.4 398.5 L1446.0 400.0 L1448.0 409.9 L1450.0 420.2 L1450.7 423.1 L1452.0 427.6 L1454.0 434.3 L1456.0 437.2 L1458.0 434.0 L1460.0 427.6 L1461.2 423.1 L1462.0 419.6 L1464.0 408.5 L1464.7 407.3 L1466.0 406.9 L1468.0 405.9 L1470.0 406.0 L1472.0 405.7 L1473.5 405.5 L1474.0 405.7 L1476.0 409.5 L1478.0 415.0 L1480.0 418.6 L1480.6 418.7 L1482.0 417.9 L1484.0 417.5 L1486.0 415.8 L1488.0 413.8 L1490.0 410.8 L1492.0 408.7 L1492.9 407.3 L1494.0 405.7 L1496.0 401.1 L1498.0 395.5 L1500.0 391.2 L1502.0 389.3 L1502.6 388.8 L1504.0 390.2 L1506.0 394.4 L1508.0 400.6 L1510.0 405.7 L1512.0 408.1 L1512.2 408.2 L1514.0 406.6 L1516.0 404.3 L1518.0 400.3 L1519.3 398.5 L1520.0 397.7 L1522.0 394.5 L1524.0 392.2 L1526.0 390.1 L1528.0 388.4 L1529.8 387.9 L1530.0 387.7 L1532.0 387.9 L1534.0 389.3 L1536.0 390.6 L1536.8 391.5 L1538.0 395.3 L1540.0 404.1 L1540.4 404.6 L1542.0 404.4 L1544.0 404.5 L1546.0 404.4 L1548.0 404.6 L1549.2 404.6 L1550.0 404.6 L1552.0 409.0 L1554.0 416.0 L1556.0 422.5 L1556.2 423.1 L1558.0 428.3 L1560.0 433.7 L1562.0 440.1 L1563.8 442.3 L1564.0 442.5 L1566.0 436.1 L1568.0 422.6 L1570.0 407.6 L1572.0 396.2 L1573.4 393.6 L1574.0 393.3 L1576.0 396.8 L1578.0 401.6 L1580.0 405.9 L1581.0 406.9 L1582.0 405.3 L1584.0 398.0 L1586.0 388.0 L1588.0 379.6 L1588.6 378.3 L1590.0 376.2 L1592.0 373.2 L1594.0 371.0 L1596.0 370.0 L1596.3 369.7 L1598.0 370.8 L1600.0 372.6 L1602.0 374.5 L1604.0 372.3 L1606.0 365.8 L1608.0 359.9 L1609.6 357.3 L1610.0 357.4 L1612.0 354.2 L1614.0 352.3 L1616.0 353.0 L1618.0 353.4 L1620.0 352.1 L1622.0 354.4 L1623.0 350.6 L1624.0 349.3 L1626.0 350.6 L1628.0 349.9 L1630.0 352.6 L1632.0 356.8 L1632.6 355.4 L1634.0 358.4 L1636.0 358.9 L1638.0 363.8 L1638.3 364.9 L1640.0 372.2 L1642.0 379.8 L1642.1 381.2 L1644.0 379.3 L1646.0 375.5 L1647.8 372.6 L1648.0 372.4 L1650.0 369.2 L1652.0 365.9 L1654.0 363.3 L1656.0 359.6 L1657.4 359.2 L1658.0 359.1 L1660.0 360.8 L1662.0 363.7 L1664.0 365.8 L1666.0 366.6 L1666.9 367.8 L1668.0 365.7 L1670.0 359.3 L1672.0 350.5 L1672.7 350.6 L1674.0 351.1 L1676.0 348.7 L1678.0 350.3 L1678.4 349.6 L1680.0 348.4 L1682.0 343.0 L1684.0 337.4 L1686.0 332.4 L1688.0 330.6 L1690.0 334.7 L1692.0 337.9 L1694.0 342.5 L1695.6 344.9 L1696.0 345.2 L1698.0 344.5 L1700.0 341.0 L1702.0 337.6 L1704.0 336.7 L1705.1 335.3 L1706.0 334.6 L1708.0 334.7 L1710.0 334.5 L1712.0 337.3 L1714.0 334.3 L1716.0 335.5 L1718.0 337.3 L1720.0 337.6 L1720.4 337.2 L1722.0 338.7 L1724.0 336.5 L1726.0 334.5 L1728.0 335.1 L1730.0 333.9 L1731.9 332.5 L1732.0 333.7 L1734.0 335.9 L1736.0 340.6 L1738.0 344.6 L1740.0 348.8 L1741.4 351.6 L1742.0 354.6 L1744.0 350.6 L1746.0 346.0 L1748.0 347.2 L1750.0 347.5 L1751.0 345.8 L1752.0 347.4 L1754.0 352.0 L1756.0 353.1 L1756.7 357.3 L1758.0 356.4 L1760.0 352.3 L1762.0 352.4 L1762.4 349.6 L1764.0 349.8 L1766.0 350.5 L1768.0 351.2 L1770.0 353.5 L1772.0 356.9 L1774.0 363.5 L1776.0 368.3 L1777.7 372.6 L1778.0 371.6 L1780.0 373.1 L1782.0 376.8 L1784.0 377.3 L1786.0 378.6 L1788.0 378.2 L1790.0 381.4 L1791.0 384.0 L1792.0 383.3 L1794.0 394.6 L1794.9 395.5 L1796.0 399.7 L1798.0 402.7 L1800.0 405.8 L1802.0 410.1 L1804.0 409.3 L1806.0 410.6 L1806.3 412.7 L1808.0 414.4 L1810.0 410.3 L1812.0 411.1 L1814.0 409.2 L1816.0 405.6 L1818.0 407.9 L1819.7 408.8 L1820.0 410.1 L1822.0 413.2 L1824.0 411.8 L1826.0 418.6 L1827.3 424.1 L1828.0 424.6 L1830.0 431.1 L1832.0 435.5 L1833.1 435.6 L1834.0 439.8 L1836.0 444.1 L1838.0 444.9 L1840.0 447.3 L1842.0 452.1 L1842.6 450.8 L1844.0 450.0 L1846.0 448.8 L1848.0 445.1 L1848.3 445.1 L1851.0 454.2 L1851.6 463.7 L1853.2 465.4 L1855.4 461.7 L1855.7 461.7 L1856.9 475.3 L1857.6 475.3 L1859.8 466.2 L1861.4 462.8 L1862.0 475.3 L1862.6 476.1 L1864.2 465.4 L1866.4 477.3 L1867.8 463.7 L1868.6 466.1 L1869.0 479.6 L1870.8 475.6 L1872.4 462.9 L1873.0 464.8 L1873.6 475.5 L1875.2 473.6 L1877.4 453.3 L1878.8 442.9 L1879.6 473.3 L1880.0 474.4 L1881.8 453.1 L1884.0 477.4 L1885.9 470.1 L1886.2 475.5 L1887.1 486.4 L1888.4 480.9 L1889.4 459.0 L1890.6 482.1 L1892.8 461.6 L1893.9 456.7 L1895.0 475.3 L1895.1 481.4 L1897.2 464.8 L1898.9 466.5 L1899.4 495.4 L1900.1 504.5 L1901.6 474.3 L1903.8 493.8 L1904.9 467.8 L1906.0 464.1 L1906.1 497.9 L1908.2 495.7 L1909.0 426.8 L1910.2 497.5 L1910.4 439.2 L1912.6 495.2 L1914.0 475.2 L1914.8 487.5 L1915.2 506.7 L1917.0 502.6 L1919.2 490.4 L1920.0 488.2" fill="none" stroke="#5a5a9c" stroke-width="5.6" stroke-linejoin="round" stroke-linecap="round"/>
<path d="M180.0 583.0 L182.0 584.0 L184.0 583.4 L186.0 583.0 L188.0 582.2 L190.0 582.8 L192.0 582.8 L194.0 582.7 L196.0 582.9 L198.0 583.0 L200.0 583.0 L202.0 584.0 L204.0 582.1 L206.0 581.7 L208.0 582.9 L210.0 581.9 L212.0 582.4 L214.0 582.5 L216.0 582.0 L218.0 583.0 L220.0 582.5 L222.0 582.8 L224.0 582.5 L226.0 582.7 L228.0 582.9 L230.0 582.1 L232.0 582.6 L234.0 582.3 L236.0 582.2 L238.0 581.9 L240.0 583.2 L242.0 582.3 L244.0 581.2 L246.0 582.4 L248.0 580.5 L250.0 582.2 L252.0 582.5 L254.0 582.8 L256.0 582.1 L258.0 581.5 L260.0 582.0 L262.0 583.1 L264.0 582.6 L266.0 582.7 L268.0 581.8 L270.0 582.4 L272.0 581.0 L274.0 582.3 L276.0 580.8 L278.0 581.5 L280.0 581.2 L282.0 582.8 L284.0 582.7 L286.0 581.8 L288.0 583.0 L290.0 582.3 L292.0 581.1 L294.0 582.1 L296.0 581.3 L298.0 582.5 L300.0 582.5 L302.0 582.7 L304.0 582.2 L306.0 583.3 L308.0 583.6 L310.0 582.6 L312.0 583.7 L314.0 583.5 L316.0 583.6 L318.0 585.0 L320.0 583.8 L322.0 584.2 L324.0 584.5 L326.0 585.0 L328.0 585.2 L330.0 584.8 L332.0 584.1 L334.0 585.2 L336.0 585.2 L338.0 585.2 L338.8 584.0 L340.0 584.1 L342.0 584.3 L344.0 584.8 L346.0 586.3 L348.0 587.2 L350.0 588.4 L352.0 589.4 L352.9 590.1 L354.0 589.9 L356.0 591.8 L358.0 593.2 L360.0 594.6 L362.0 595.7 L364.0 597.6 L366.0 599.2 L368.0 600.3 L370.0 602.3 L370.5 602.4 L372.0 603.3 L374.0 604.6 L376.0 605.9 L378.0 606.8 L380.0 607.9 L382.0 609.2 L384.0 610.4 L386.0 611.6 L388.0 612.4 L390.0 614.0 L392.0 615.5 L394.0 616.1 L395.1 617.4 L396.0 618.0 L398.0 620.0 L400.0 622.1 L402.0 625.0 L404.0 626.9 L406.0 628.4 L407.4 629.7 L408.0 630.1 L410.0 631.2 L412.0 632.7 L414.0 634.8 L416.0 635.0 L418.0 637.1 L420.0 637.8 L422.0 639.1 L424.0 640.3 L426.0 642.1 L428.0 642.7 L428.5 642.9 L430.0 643.9 L432.0 645.3 L434.0 645.3 L436.0 647.9 L438.0 647.7 L440.0 649.2 L442.0 650.8 L444.0 651.2 L446.0 652.0 L448.0 654.1 L450.0 654.5 L452.0 655.9 L453.1 656.1 L454.0 656.7 L456.0 657.3 L458.0 658.9 L460.0 659.0 L462.0 660.7 L464.0 660.4 L466.0 661.1 L468.0 662.0 L470.0 663.0 L470.7 663.1 L472.0 663.1 L474.0 663.8 L476.0 665.0 L478.0 665.1 L480.0 665.9 L482.0 666.0 L484.0 666.2 L486.0 666.6 L488.0 667.4 L490.0 667.9 L491.8 668.4 L492.0 668.3 L494.0 668.9 L496.0 670.3 L498.0 671.0 L498.8 671.0 L500.0 671.9 L502.0 673.5 L504.0 675.7 L506.0 678.8 L507.6 679.8 L508.0 680.0 L510.0 683.2 L512.0 684.6 L514.0 686.7 L516.0 690.0 L518.0 691.0 L520.0 692.1 L522.0 693.3 L524.0 693.5 L526.0 693.9 L528.0 694.8 L530.0 694.8 L532.0 695.3 L534.0 695.4 L536.0 695.0 L537.5 695.6 L538.0 695.7 L540.0 695.1 L542.0 694.6 L544.0 694.0 L546.0 692.4 L548.0 692.2 L549.8 691.2 L550.0 691.3 L552.0 691.0 L554.0 689.8 L556.0 688.8 L558.0 687.6 L560.0 686.9 L562.0 685.6 L564.0 685.3 L566.0 684.1 L568.0 683.1 L570.0 682.2 L572.0 681.3 L574.0 680.2 L576.0 678.6 L576.2 678.9 L578.0 678.3 L580.0 676.6 L582.0 675.4 L584.0 673.9 L586.0 672.1 L588.0 671.1 L590.0 669.4 L592.0 667.7 L593.8 666.6 L594.0 666.5 L596.0 665.0 L598.0 663.0 L600.0 660.7 L602.0 658.1 L604.0 655.9 L606.0 653.7 L608.0 651.2 L610.0 650.0 L612.0 648.1 L614.0 646.3 L616.0 646.4 L618.0 646.2 L618.4 645.5 L620.0 645.1 L622.0 645.5 L624.0 645.3 L626.0 646.0 L628.0 645.4 L630.0 646.1 L632.0 646.2 L634.0 646.6 L636.0 645.6 L638.0 646.1 L640.0 646.3 L641.3 646.4 L642.0 646.6 L644.0 645.5 L646.0 644.1 L648.0 642.2 L650.0 640.0 L650.1 640.2 L652.0 638.7 L654.0 637.1 L656.0 635.5 L658.0 633.5 L660.0 631.9 L662.0 629.6 L664.0 626.3 L666.0 622.3 L668.0 620.6 L668.8 619.6 L670.0 618.4 L672.0 616.4 L674.0 615.9 L676.0 614.5 L677.6 614.3 L678.0 614.4 L680.0 614.5 L682.0 614.9 L684.0 615.0 L686.0 616.6 L688.0 616.9 L690.0 618.0 L692.0 618.7 L694.0 619.0 L695.2 619.6 L696.0 619.3 L698.0 620.1 L700.0 621.0 L702.0 620.7 L704.0 621.0 L706.0 621.4 L707.5 621.4 L708.0 621.2 L710.0 621.6 L712.0 620.7 L714.0 620.6 L716.0 618.9 L718.0 617.8 L720.0 616.8 L722.0 613.2 L724.0 610.3 L726.0 606.7 L728.0 604.3 L730.0 602.9 L730.3 602.9 L732.0 602.7 L734.0 602.7 L736.0 601.9 L738.0 601.3 L740.0 601.6 L742.0 601.2 L742.7 601.1 L744.0 600.5 L746.0 600.0 L748.0 598.9 L750.0 596.7 L752.0 595.1 L754.0 592.8 L756.0 592.0 L758.0 591.1 L760.0 589.5 L760.2 589.7 L762.0 589.3 L764.0 588.5 L766.0 587.8 L768.0 587.1 L770.0 586.3 L772.0 586.1 L774.0 585.6 L776.0 584.8 L778.0 584.2 L780.0 584.1 L782.0 583.6 L783.1 582.7 L784.0 582.2 L786.0 582.1 L788.0 581.2 L790.0 581.3 L792.0 579.7 L794.0 579.0 L796.0 578.2 L798.0 578.2 L800.0 576.9 L802.0 576.9 L804.0 575.9 L806.0 576.0 L808.0 575.6 L809.5 574.7 L810.0 575.0 L812.0 573.5 L814.0 573.3 L816.0 572.5 L818.0 574.0 L820.0 572.5 L822.0 572.2 L824.0 572.1 L826.0 572.0 L828.0 571.3 L830.0 571.2 L832.0 570.9 L834.0 570.1 L835.9 570.3 L836.0 570.9 L838.0 570.6 L840.0 569.8 L842.0 569.4 L844.0 569.9 L846.0 569.8 L848.0 568.7 L850.0 568.6 L852.0 568.0 L854.0 568.1 L856.0 566.8 L858.0 566.7 L860.0 567.4 L862.0 566.9 L864.0 566.9 L866.0 566.6 L868.0 566.5 L870.0 566.2 L872.0 565.8 L874.0 565.8 L876.0 565.3 L878.0 565.8 L879.8 565.1 L880.0 564.8 L882.0 564.8 L884.0 565.0 L886.0 564.4 L888.0 564.7 L890.0 564.7 L892.0 564.3 L894.0 563.7 L896.0 564.3 L898.0 563.7 L900.0 563.0 L902.0 563.9 L904.0 563.1 L906.0 563.1 L908.0 563.0 L910.0 562.4 L912.0 562.7 L914.0 561.9 L916.0 561.8 L918.0 561.9 L920.0 562.6 L922.0 562.0 L923.8 561.6 L924.0 562.0 L926.0 561.3 L928.0 561.6 L930.0 560.5 L932.0 561.0 L934.0 561.2 L936.0 560.7 L938.0 560.1 L940.0 560.1 L942.0 560.8 L944.0 560.9 L946.0 560.2 L948.0 560.8 L950.0 559.6 L952.0 560.2 L954.0 560.0 L956.0 560.1 L958.0 559.2 L960.0 559.9 L962.0 559.5 L964.0 559.1 L966.0 559.2 L968.0 559.2 L970.0 559.3 L972.0 558.8 L974.0 558.7 L976.0 559.0 L976.6 558.9 L978.0 558.9 L980.0 559.0 L982.0 559.1 L984.0 558.1 L986.0 558.6 L988.0 558.7 L990.0 558.6 L991.0 558.2 L992.0 558.8 L993.0 558.5 L994.0 559.1 L995.0 558.4 L996.0 558.2 L997.0 558.7 L998.0 558.4 L999.0 558.4 L1000.0 558.6 L1001.0 558.0 L1002.0 558.4 L1003.0 557.7 L1004.0 556.6 L1005.0 559.3 L1006.0 558.6 L1007.0 558.2 L1008.0 559.5 L1009.0 558.2 L1009.7 558.3 L1010.0 559.9 L1011.0 566.0 L1011.7 568.0 L1012.0 567.2 L1013.0 559.9 L1013.7 558.2 L1014.0 558.7 L1015.0 558.4 L1016.0 559.1 L1017.0 556.7 L1018.0 558.0 L1019.0 558.3 L1020.0 558.4 L1021.0 558.2 L1022.0 558.4 L1023.0 556.0 L1024.0 557.8 L1025.0 557.5 L1026.0 556.7 L1027.0 558.2 L1028.0 557.7 L1029.0 557.0 L1030.0 558.0 L1031.0 556.7 L1032.0 558.3 L1033.0 555.6 L1034.0 557.8 L1035.0 556.9 L1036.0 558.0 L1037.0 559.5 L1038.0 558.7 L1039.0 557.7 L1040.0 559.0 L1041.0 559.3 L1042.0 558.5 L1043.0 559.2 L1044.0 557.7 L1045.0 558.0 L1046.0 557.3 L1047.0 557.0 L1048.0 557.3 L1049.0 556.5 L1050.0 557.1 L1051.0 559.1 L1052.0 557.7 L1053.0 556.8 L1054.0 558.5 L1055.0 558.2 L1056.0 555.8 L1057.0 556.1 L1058.0 558.2 L1059.0 556.7 L1060.0 556.5 L1061.0 556.8 L1062.0 555.5 L1063.0 554.5 L1064.0 558.3 L1065.0 554.9 L1066.0 557.2 L1067.0 559.3 L1068.0 557.0 L1069.0 555.5 L1070.0 556.8 L1070.1 555.6 L1071.0 552.1 L1072.0 544.5 L1072.1 545.2 L1073.0 550.0 L1074.0 553.2 L1074.1 555.3 L1075.0 552.3 L1076.0 554.2 L1077.0 552.0 L1078.0 553.8 L1078.5 554.9 L1079.0 556.0 L1080.0 562.1 L1080.5 563.0 L1081.0 564.9 L1082.0 554.4 L1082.5 554.5 L1083.0 553.7 L1084.0 553.5 L1085.0 552.3 L1086.0 557.4 L1087.0 552.5 L1088.0 553.3 L1089.0 553.3 L1090.0 557.8 L1091.0 553.0 L1092.0 552.2 L1093.0 555.6 L1094.0 552.3 L1094.5 553.5 L1095.0 551.8 L1096.0 566.0 L1096.5 566.0 L1097.0 565.6 L1098.0 552.7 L1098.5 553.1 L1099.0 550.9 L1099.1 553.1 L1100.0 553.0 L1101.0 537.8 L1101.1 537.5 L1102.0 542.3 L1103.0 550.0 L1103.1 552.8 L1103.5 552.7 L1104.0 552.4 L1105.0 565.3 L1105.5 564.0 L1106.0 564.0 L1107.0 552.4 L1107.5 552.4 L1108.0 552.0 L1109.0 552.3 L1110.0 551.3 L1111.0 551.7 L1112.0 554.6 L1113.0 550.3 L1114.0 550.0 L1115.0 551.1 L1116.0 549.9 L1117.0 550.2 L1118.0 550.1 L1119.0 549.1 L1120.0 552.8 L1121.0 549.5 L1122.0 552.9 L1123.0 549.1 L1124.0 548.9 L1125.0 550.9 L1126.0 550.0 L1127.0 551.9 L1128.0 551.5 L1129.0 554.4 L1130.0 545.1 L1131.0 548.4 L1132.0 550.1 L1133.0 549.8 L1134.0 550.1 L1135.0 554.6 L1136.0 546.1 L1137.0 551.2 L1138.0 549.6 L1139.0 550.0 L1140.0 550.0 L1141.0 551.8 L1142.0 549.7 L1143.0 551.2 L1144.0 549.8 L1145.0 550.9 L1146.0 547.8 L1147.0 550.7 L1148.0 549.6 L1149.0 546.2 L1150.0 548.3 L1151.0 547.1 L1152.0 547.9 L1153.0 548.9 L1154.0 552.8 L1155.0 548.0 L1156.0 548.5 L1157.0 549.1 L1158.0 557.2 L1159.0 566.0 L1160.0 560.0 L1161.0 549.0 L1161.7 548.9 L1162.0 547.3 L1163.0 543.2 L1163.7 540.0 L1164.0 541.8 L1165.0 547.1 L1165.7 548.7 L1166.0 545.0 L1167.0 546.3 L1168.0 549.7 L1169.0 545.3 L1170.0 547.9 L1171.0 545.6 L1172.0 548.9 L1173.0 548.0 L1174.0 545.4 L1174.5 548.3 L1175.0 550.4 L1176.0 561.2 L1176.5 566.0 L1177.0 562.0 L1178.0 552.9 L1178.5 548.1 L1179.0 548.3 L1180.0 548.0 L1181.0 548.0 L1182.0 545.3 L1183.0 542.0 L1184.0 547.4 L1185.0 547.8 L1186.0 547.7 L1187.0 549.8 L1188.0 548.2 L1189.0 547.9 L1190.0 546.7 L1191.0 545.8 L1192.0 547.4 L1193.0 540.4 L1194.0 537.5 L1195.0 540.5 L1196.0 547.2 L1197.0 547.9 L1198.0 547.6 L1199.0 545.4 L1200.0 547.0 L1201.0 552.9 L1202.0 555.0 L1203.0 549.6 L1204.0 546.8 L1205.0 545.8 L1206.0 544.1 L1207.0 545.0 L1207.3 546.6 L1208.0 546.5 L1209.0 542.6 L1209.3 541.7 L1210.0 541.7 L1211.0 548.1 L1211.3 546.4 L1212.0 546.1 L1213.0 546.3 L1214.0 548.0 L1215.0 546.9 L1216.0 545.4 L1217.0 544.1 L1218.0 548.1 L1219.0 541.8 L1220.0 546.0 L1221.0 544.7 L1222.0 542.8 L1223.0 544.8 L1224.0 547.2 L1224.9 545.9 L1225.0 545.1 L1226.0 542.6 L1226.9 541.7 L1227.0 541.4 L1228.0 547.3 L1228.9 545.9 L1229.0 548.1 L1230.0 546.1 L1231.0 544.6 L1232.0 545.0 L1233.0 546.3 L1234.0 545.3 L1235.0 545.5 L1236.0 543.8 L1237.0 543.3 L1238.0 543.7 L1239.0 546.0 L1240.0 544.8 L1241.0 548.0 L1242.0 546.2 L1243.0 546.2 L1244.0 546.5 L1245.0 544.7 L1246.0 544.5 L1247.0 545.4 L1248.0 546.1 L1249.0 546.1 L1250.0 547.0 L1251.0 546.8 L1252.0 546.5 L1253.0 546.6 L1254.0 545.8 L1255.0 546.3 L1256.0 545.3 L1257.0 545.1 L1258.0 546.4 L1259.0 544.0 L1260.0 545.5 L1261.0 546.8 L1262.0 547.2 L1263.0 545.1 L1264.0 546.3 L1265.0 545.8 L1266.0 544.8 L1267.0 546.0 L1268.0 546.2 L1269.0 546.7 L1270.0 545.6 L1271.0 546.1 L1272.0 545.5 L1273.0 547.0 L1274.0 546.1 L1275.0 547.1 L1276.0 545.8 L1277.0 546.6 L1278.0 545.8 L1279.0 546.0 L1280.0 547.8 L1281.0 546.7 L1282.0 547.0 L1283.0 547.8 L1284.0 546.6 L1285.0 549.2 L1286.0 546.9 L1287.0 547.4 L1288.0 549.9 L1289.0 546.5 L1290.0 549.8 L1291.0 548.7 L1292.0 549.0 L1293.0 547.8 L1294.0 549.1 L1295.0 547.9 L1296.0 550.2 L1297.0 549.2 L1298.0 549.1 L1299.0 549.4 L1300.0 550.0 L1302.0 550.7 L1304.0 551.0 L1306.0 551.1 L1307.8 551.7 L1308.0 551.5 L1310.0 552.2 L1312.0 553.8 L1314.0 554.8 L1316.0 555.2 L1316.6 555.7 L1318.0 555.5 L1320.0 556.3 L1322.0 556.5 L1324.0 557.2 L1325.4 557.5 L1326.0 557.9 L1328.0 561.3 L1329.9 565.7 L1330.0 566.2 L1332.0 572.9 L1334.0 581.1 L1335.2 586.8 L1336.0 591.0 L1338.0 602.0 L1340.0 613.9 L1340.4 616.7 L1342.0 626.2 L1344.0 638.3 L1346.0 650.9 L1347.5 660.7 L1348.0 664.5 L1350.0 682.0 L1352.0 699.8 L1352.8 704.7 L1354.0 710.5 L1356.0 718.8 L1358.0 725.7 L1359.8 731.0 L1360.0 731.5 L1362.0 738.4 L1364.0 745.3 L1366.0 750.3 L1367.7 752.1 L1368.0 751.7 L1370.0 746.2 L1372.0 734.4 L1373.9 722.3 L1374.0 721.6 L1376.0 704.4 L1378.0 685.5 L1379.1 678.3 L1380.0 674.0 L1382.0 664.0 L1384.0 655.9 L1386.0 650.6 L1387.9 648.4 L1388.0 648.4 L1390.0 650.1 L1392.0 655.3 L1393.2 658.9 L1394.0 661.4 L1396.0 670.8 L1398.0 683.9 L1398.5 687.1 L1400.0 707.4 L1402.0 731.0 L1404.0 734.8 L1406.0 737.6 L1408.0 737.9 L1408.2 738.1 L1410.0 735.5 L1412.0 728.5 L1414.0 719.9 L1414.3 718.7 L1416.0 711.4 L1418.0 701.7 L1420.0 691.6 L1422.0 680.6 L1423.1 674.8 L1424.0 670.0 L1426.0 659.9 L1428.0 649.8 L1430.0 640.6 L1430.1 639.6 L1432.0 630.4 L1434.0 619.8 L1436.0 611.9 L1438.0 608.2 L1438.1 607.9 L1440.0 608.8 L1442.0 610.9 L1444.0 614.6 L1444.2 615.0 L1446.0 622.7 L1448.0 634.8 L1449.5 643.1 L1450.0 644.7 L1452.0 653.8 L1454.0 660.0 L1455.6 662.5 L1456.0 661.9 L1458.0 657.6 L1460.0 649.6 L1461.8 643.1 L1462.0 642.5 L1464.0 635.7 L1466.0 630.2 L1467.1 629.0 L1468.0 629.0 L1470.0 628.7 L1472.0 628.1 L1474.0 629.4 L1475.9 629.0 L1476.0 629.2 L1478.0 634.2 L1480.0 641.5 L1481.1 643.1 L1482.0 642.8 L1484.0 642.7 L1486.0 641.8 L1488.0 640.2 L1490.0 639.5 L1491.7 637.8 L1492.0 637.1 L1494.0 634.0 L1496.0 630.1 L1497.0 627.3 L1498.0 624.5 L1500.0 618.8 L1502.0 614.4 L1503.1 613.2 L1504.0 613.7 L1506.0 617.5 L1508.0 624.2 L1510.0 630.7 L1512.0 634.3 L1512.8 635.2 L1514.0 634.0 L1516.0 627.1 L1518.0 622.3 L1518.1 622.0 L1520.0 621.3 L1522.0 620.8 L1523.4 620.2 L1524.0 619.6 L1526.0 616.5 L1528.0 613.8 L1530.0 611.6 L1530.4 611.5 L1532.0 612.1 L1534.0 612.1 L1536.0 613.8 L1537.4 615.0 L1538.0 617.1 L1540.0 626.1 L1541.0 629.0 L1542.0 628.6 L1544.0 629.0 L1546.0 629.5 L1548.0 628.6 L1549.7 629.0 L1550.0 629.1 L1552.0 633.0 L1554.0 639.8 L1555.0 643.1 L1556.0 646.0 L1558.0 653.6 L1560.0 660.4 L1562.0 665.4 L1563.8 667.7 L1564.0 667.4 L1566.0 661.3 L1568.0 649.0 L1569.1 643.1 L1570.0 637.0 L1572.0 621.9 L1573.5 616.7 L1574.0 616.2 L1576.0 619.7 L1578.0 622.6 L1580.0 626.4 L1581.4 627.3 L1582.0 626.3 L1584.0 614.4 L1586.0 601.6 L1586.7 599.1 L1588.0 597.1 L1590.0 594.3 L1592.0 592.9 L1594.0 591.3 L1596.0 590.1 L1597.2 590.3 L1598.0 590.1 L1600.0 593.9 L1602.0 595.2 L1602.5 595.6 L1604.0 591.3 L1606.0 585.3 L1607.8 579.8 L1608.0 578.0 L1610.0 576.8 L1612.0 575.2 L1614.0 572.9 L1616.0 575.1 L1616.6 574.5 L1618.0 577.9 L1620.0 575.0 L1622.0 574.8 L1624.0 574.1 L1625.4 574.5 L1626.0 574.6 L1628.0 578.2 L1630.0 582.9 L1630.6 583.3 L1632.0 584.1 L1634.0 586.2 L1636.0 587.7 L1637.7 590.3 L1638.0 591.5 L1640.0 603.4 L1642.0 612.5 L1642.1 611.5 L1644.0 606.1 L1646.0 598.5 L1646.3 598.5 L1648.0 596.8 L1650.0 593.4 L1652.0 591.4 L1654.0 590.4 L1656.0 589.2 L1658.0 589.6 L1658.8 588.3 L1660.0 587.2 L1662.0 590.6 L1664.0 590.3 L1666.0 592.5 L1667.5 592.2 L1668.0 590.6 L1670.0 587.3 L1672.0 580.2 L1673.0 578.1 L1674.0 577.6 L1676.0 570.6 L1678.0 568.8 L1679.2 565.5 L1680.0 563.2 L1682.0 558.9 L1684.0 556.5 L1686.0 554.2 L1688.0 551.4 L1688.6 551.4 L1690.0 553.4 L1692.0 557.8 L1694.0 561.7 L1694.9 562.4 L1696.0 563.5 L1698.0 560.6 L1700.0 559.2 L1702.0 555.2 L1704.0 555.1 L1704.3 555.3 L1706.0 557.2 L1708.0 558.4 L1710.0 559.5 L1712.0 563.9 L1712.2 563.2 L1714.0 563.2 L1716.0 560.7 L1718.0 559.0 L1720.0 556.6 L1722.0 555.9 L1723.2 555.3 L1724.0 556.4 L1726.0 555.6 L1728.0 555.2 L1730.0 554.8 L1732.0 555.1 L1734.0 554.8 L1734.1 555.3 L1736.0 558.7 L1738.0 562.3 L1740.0 568.2 L1742.0 571.8 L1744.0 572.4 L1746.0 572.3 L1748.0 572.2 L1749.8 571.8 L1750.0 571.1 L1752.0 572.6 L1754.0 571.1 L1756.0 572.2 L1758.0 573.8 L1759.3 576.5 L1760.0 577.4 L1762.0 579.6 L1764.0 577.2 L1766.0 577.5 L1768.0 578.8 L1768.7 579.6 L1770.0 583.9 L1772.0 585.2 L1774.0 589.8 L1776.0 593.5 L1776.5 595.3 L1778.0 599.3 L1780.0 605.3 L1782.0 607.6 L1784.0 608.1 L1784.4 609.4 L1786.0 611.4 L1788.0 608.8 L1790.0 611.1 L1792.0 606.3 L1792.2 607.9 L1794.0 611.5 L1796.0 619.9 L1796.9 622.0 L1798.0 621.5 L1800.0 628.4 L1802.0 632.7 L1804.0 634.2 L1806.0 636.7 L1806.3 636.1 L1808.0 637.0 L1810.0 635.9 L1812.0 638.7 L1814.0 636.6 L1816.0 637.6 L1818.0 637.4 L1820.0 640.2 L1820.4 639.3 L1822.0 640.0 L1824.0 643.3 L1826.0 645.2 L1828.0 653.2 L1830.0 660.0 L1831.4 661.2 L1832.0 659.0 L1834.0 666.4 L1836.0 669.2 L1838.0 669.8 L1840.0 675.0 L1840.8 676.9 L1843.3 664.2 L1843.9 679.1 L1845.5 677.4 L1847.7 671.2 L1849.9 683.8 L1850.6 674.1 L1851.8 686.9 L1852.1 679.1 L1854.3 690.0 L1856.2 683.2 L1856.5 683.8 L1857.4 700.7 L1858.7 700.8 L1860.9 687.2 L1863.1 703.1 L1865.3 686.3 L1866.5 710.5 L1867.5 691.3 L1869.7 707.8 L1871.9 695.1 L1872.1 688.5 L1873.3 714.0 L1874.1 712.0 L1876.3 688.1 L1878.5 716.0 L1878.8 675.3 L1880.0 718.0 L1880.7 681.3 L1882.9 714.3 L1883.4 695.6 L1884.6 715.3 L1885.1 702.2 L1887.3 707.2 L1887.9 700.8 L1889.1 704.2 L1889.5 699.6 L1891.7 702.2 L1892.4 690.4 L1893.6 703.1 L1893.9 689.7 L1896.1 705.9 L1898.0 688.7 L1898.3 694.1 L1899.2 714.5 L1900.5 720.7 L1902.6 717.1 L1902.7 718.5 L1903.8 743.1 L1904.9 740.9 L1907.1 734.4 L1908.4 736.6 L1909.3 743.2 L1909.6 744.5 L1911.5 733.7 L1913.7 745.7 L1913.9 728.3 L1915.1 748.7 L1915.9 735.0 L1918.1 752.0 L1919.5 747.3" fill="none" stroke="#2ec46b" stroke-width="5.6" stroke-linejoin="round" stroke-linecap="round"/>
<path d="M180.0 793.5 L182.0 793.9 L184.0 793.8 L186.0 793.2 L188.0 793.1 L190.0 793.3 L192.0 793.1 L194.0 792.9 L196.0 792.7 L198.0 793.4 L200.0 794.0 L202.0 794.5 L204.0 793.7 L206.0 793.2 L208.0 793.6 L210.0 794.2 L212.0 793.3 L214.0 793.7 L216.0 793.4 L218.0 793.2 L220.0 793.0 L222.0 792.7 L224.0 793.4 L226.0 792.5 L228.0 792.4 L230.0 793.1 L232.0 793.5 L234.0 793.4 L236.0 793.3 L238.0 792.6 L240.0 792.7 L242.0 793.4 L244.0 793.9 L246.0 791.1 L248.0 793.4 L250.0 792.8 L252.0 792.6 L254.0 792.2 L256.0 792.2 L258.0 791.9 L260.0 792.5 L262.0 792.7 L264.0 792.0 L266.0 792.5 L268.0 791.7 L270.0 793.3 L272.0 793.0 L274.0 791.9 L276.0 792.9 L278.0 792.4 L280.0 792.2 L282.0 792.8 L284.0 793.3 L286.0 793.7 L288.0 793.0 L290.0 793.6 L292.0 793.3 L294.0 793.3 L296.0 793.6 L298.0 792.2 L300.0 793.0 L302.0 792.9 L304.0 794.1 L306.0 792.6 L308.0 793.0 L310.0 794.8 L312.0 793.3 L314.0 794.2 L316.0 794.5 L318.0 794.4 L320.0 795.3 L322.0 795.4 L324.0 794.6 L326.0 796.2 L328.0 794.7 L330.0 795.2 L332.0 794.8 L334.0 794.5 L336.0 794.1 L338.0 792.6 L340.0 792.8 L342.0 791.8 L342.3 792.5 L344.0 792.6 L346.0 793.2 L348.0 794.4 L350.0 796.0 L352.0 797.6 L354.0 798.8 L356.0 800.3 L356.4 800.5 L358.0 800.8 L360.0 802.2 L362.0 803.7 L364.0 804.1 L366.0 805.2 L368.0 806.2 L368.7 806.6 L370.0 807.5 L372.0 808.3 L374.0 809.0 L376.0 809.7 L378.0 811.0 L380.0 810.8 L382.0 812.9 L384.0 813.4 L386.0 814.8 L388.0 815.5 L390.0 816.9 L392.0 817.2 L394.0 817.7 L396.0 819.4 L396.8 819.8 L398.0 820.2 L400.0 821.5 L402.0 823.0 L404.0 823.4 L406.0 825.1 L408.0 826.3 L410.0 827.5 L412.0 827.5 L412.7 828.6 L414.0 829.3 L416.0 830.0 L418.0 831.2 L420.0 832.0 L422.0 833.2 L424.0 834.6 L426.0 835.8 L428.0 836.4 L430.0 836.7 L432.0 838.5 L434.0 838.5 L436.0 839.6 L438.0 840.9 L439.0 840.9 L440.0 841.1 L442.0 842.3 L444.0 842.7 L446.0 843.1 L448.0 844.3 L450.0 844.8 L452.0 846.2 L454.0 847.0 L456.0 847.5 L458.0 847.2 L460.0 848.8 L462.0 848.8 L464.0 849.4 L466.0 849.8 L468.0 849.9 L470.0 850.5 L470.7 850.6 L472.0 851.1 L474.0 851.6 L476.0 851.4 L478.0 851.4 L480.0 851.4 L482.0 851.6 L484.0 852.4 L486.0 852.2 L488.0 852.2 L490.0 851.8 L492.0 852.0 L494.0 853.2 L495.3 853.2 L496.0 853.6 L498.0 854.6 L500.0 855.6 L502.0 856.9 L504.0 858.2 L505.9 860.2 L506.0 859.9 L508.0 861.0 L510.0 863.6 L512.0 865.4 L514.0 867.5 L516.0 867.9 L518.0 869.4 L520.0 870.8 L522.0 871.7 L524.0 872.2 L526.0 872.0 L528.0 873.0 L530.0 873.7 L532.0 873.9 L534.0 874.4 L535.8 874.3 L536.0 874.3 L538.0 873.9 L540.0 873.8 L542.0 873.0 L544.0 872.6 L546.0 870.8 L548.0 870.4 L550.0 869.4 L551.6 869.0 L552.0 868.8 L554.0 868.3 L556.0 867.7 L558.0 866.1 L560.0 866.6 L562.0 865.7 L564.0 865.1 L566.0 864.3 L568.0 863.9 L570.0 863.0 L572.0 861.5 L574.0 861.2 L576.0 860.6 L578.0 859.7 L580.0 858.8 L582.0 858.3 L584.0 856.8 L585.0 856.7 L586.0 855.9 L588.0 854.6 L590.0 853.6 L592.0 852.4 L594.0 850.4 L596.0 849.3 L598.0 847.4 L600.0 846.6 L602.0 844.0 L602.6 844.4 L604.0 843.4 L606.0 842.3 L608.0 840.2 L610.0 838.4 L612.0 837.0 L614.0 836.2 L616.0 834.7 L618.0 834.5 L620.0 833.9 L620.2 833.9 L622.0 833.7 L624.0 833.9 L626.0 834.4 L628.0 834.8 L630.0 834.4 L632.0 834.5 L634.0 834.7 L636.0 835.5 L638.0 836.1 L640.0 835.4 L641.3 835.6 L642.0 835.8 L644.0 834.9 L646.0 834.3 L648.0 832.0 L650.0 831.0 L652.0 828.4 L654.0 826.4 L656.0 824.8 L658.0 822.5 L660.0 820.8 L662.0 819.4 L664.0 818.2 L664.2 818.0 L666.0 817.8 L668.0 816.9 L670.0 815.7 L670.6 815.8 L672.0 815.2 L674.0 813.9 L676.0 813.0 L678.0 813.1 L679.3 812.3 L680.0 812.1 L682.0 813.6 L684.0 814.7 L686.0 815.9 L686.4 815.0 L688.0 815.1 L690.0 815.3 L692.0 815.5 L694.0 815.4 L696.0 816.2 L698.0 816.3 L700.0 814.9 L702.0 815.6 L704.0 816.2 L706.0 815.4 L707.5 815.8 L708.0 815.5 L710.0 815.4 L712.0 814.7 L714.0 813.6 L716.0 812.6 L718.0 811.5 L720.0 810.7 L722.0 807.3 L724.0 805.8 L726.0 803.6 L728.0 802.6 L730.0 801.6 L730.3 801.8 L732.0 802.0 L734.0 801.8 L736.0 802.6 L738.0 801.3 L740.0 801.6 L742.0 802.1 L742.7 801.8 L744.0 801.5 L746.0 801.1 L748.0 799.5 L750.0 799.0 L752.0 797.3 L754.0 796.0 L756.0 794.1 L758.0 793.0 L758.5 793.0 L760.0 792.0 L762.0 791.8 L764.0 789.7 L766.0 789.6 L768.0 788.9 L769.0 788.6 L770.0 788.9 L772.0 788.3 L774.0 787.6 L776.0 788.0 L778.0 787.0 L780.0 787.9 L782.0 787.3 L784.0 786.9 L786.0 786.7 L786.6 786.8 L788.0 786.7 L790.0 785.4 L792.0 785.9 L794.0 784.3 L796.0 784.4 L798.0 783.2 L800.0 783.2 L800.7 782.4 L802.0 781.7 L804.0 781.9 L806.0 781.2 L808.0 780.6 L810.0 780.7 L812.0 779.9 L814.0 779.4 L816.0 779.2 L818.0 778.6 L820.0 778.5 L822.0 778.2 L824.0 778.3 L826.0 777.6 L828.0 777.1 L830.0 777.3 L832.0 776.7 L834.0 776.2 L835.9 776.3 L836.0 775.8 L838.0 776.6 L840.0 775.7 L842.0 776.1 L844.0 775.0 L846.0 774.7 L848.0 775.5 L850.0 774.6 L852.0 774.4 L854.0 774.2 L856.0 773.7 L858.0 774.2 L860.0 773.3 L862.0 773.8 L864.0 773.0 L866.0 774.1 L868.0 773.3 L870.0 773.2 L871.0 772.8 L872.0 772.1 L874.0 772.7 L876.0 772.2 L878.0 772.0 L880.0 771.8 L882.0 772.3 L884.0 771.9 L886.0 771.6 L888.0 771.5 L890.0 771.3 L892.0 771.3 L894.0 771.2 L896.0 770.8 L898.0 770.8 L900.0 770.2 L902.0 770.9 L904.0 771.0 L906.0 770.5 L908.0 771.0 L910.0 770.1 L912.0 770.3 L914.0 770.6 L915.0 770.1 L916.0 770.1 L918.0 769.6 L920.0 769.8 L922.0 769.4 L924.0 769.8 L926.0 769.5 L928.0 769.0 L930.0 769.1 L932.0 769.3 L934.0 768.9 L936.0 768.7 L938.0 768.1 L940.0 767.8 L942.0 767.6 L944.0 768.0 L946.0 767.1 L948.0 767.5 L950.0 767.8 L952.0 766.5 L954.0 767.0 L956.0 766.4 L958.0 766.6 L959.0 766.6 L960.0 766.7 L962.0 766.1 L964.0 765.8 L966.0 766.0 L968.0 766.1 L970.0 765.8 L972.0 765.4 L974.0 765.9 L976.0 765.1 L978.0 764.9 L980.0 765.4 L982.0 766.0 L984.0 765.0 L986.0 765.1 L988.0 764.7 L990.0 764.8 L991.0 764.6 L992.0 765.1 L993.0 765.0 L994.0 764.7 L995.0 764.7 L996.0 765.3 L997.0 764.5 L998.0 765.3 L999.0 764.9 L1000.0 764.1 L1001.0 764.9 L1002.0 764.7 L1003.0 765.2 L1004.0 764.8 L1005.0 766.7 L1006.0 765.9 L1007.0 766.0 L1008.0 763.9 L1009.0 764.6 L1010.0 766.0 L1011.0 765.5 L1012.0 765.0 L1013.0 764.9 L1014.0 765.9 L1015.0 763.2 L1016.0 764.2 L1017.0 763.7 L1018.0 766.0 L1019.0 763.7 L1020.0 764.7 L1021.0 766.2 L1022.0 764.7 L1023.0 765.2 L1024.0 765.0 L1025.0 765.6 L1026.0 767.0 L1027.0 763.9 L1028.0 764.9 L1029.0 766.5 L1030.0 765.0 L1031.0 767.1 L1032.0 764.8 L1033.0 766.2 L1034.0 765.6 L1035.0 765.5 L1036.0 763.6 L1037.0 763.4 L1038.0 764.9 L1039.0 764.6 L1040.0 764.6 L1041.0 763.5 L1042.0 765.8 L1043.0 764.2 L1044.0 766.8 L1045.0 764.0 L1046.0 764.4 L1047.0 764.6 L1047.2 763.9 L1048.0 762.0 L1049.0 758.8 L1049.2 759.6 L1050.0 760.5 L1051.0 763.5 L1051.2 763.6 L1052.0 763.1 L1053.0 765.3 L1054.0 763.0 L1055.0 764.1 L1056.0 764.1 L1057.0 763.4 L1058.0 762.2 L1059.0 763.5 L1060.0 763.0 L1061.0 764.6 L1062.0 763.2 L1063.0 762.9 L1064.0 759.1 L1065.0 760.9 L1066.0 762.5 L1067.0 763.1 L1068.0 764.0 L1069.0 762.1 L1070.0 762.9 L1071.0 760.7 L1071.9 762.4 L1072.0 763.4 L1073.0 759.5 L1073.9 755.2 L1074.0 755.0 L1075.0 760.9 L1075.9 762.2 L1076.0 761.7 L1077.0 761.3 L1078.0 761.6 L1079.0 765.5 L1080.0 759.2 L1081.0 762.3 L1082.0 761.3 L1083.0 762.0 L1084.0 759.2 L1085.0 763.0 L1085.9 761.7 L1086.0 762.9 L1087.0 764.6 L1087.9 767.5 L1088.0 766.7 L1089.0 764.2 L1089.9 761.5 L1090.0 763.1 L1091.0 758.8 L1092.0 763.7 L1093.0 760.7 L1094.0 762.7 L1095.0 759.8 L1096.0 764.5 L1097.0 761.6 L1098.0 764.2 L1099.0 760.0 L1099.1 761.0 L1100.0 761.0 L1101.0 738.7 L1101.1 739.3 L1102.0 750.4 L1103.0 761.9 L1103.1 760.8 L1103.5 760.7 L1104.0 762.6 L1105.0 769.4 L1105.5 768.4 L1106.0 768.0 L1107.0 761.2 L1107.5 760.4 L1108.0 757.1 L1109.0 756.2 L1110.0 761.1 L1111.0 760.8 L1112.0 758.2 L1113.0 760.5 L1114.0 759.1 L1115.0 759.5 L1116.0 761.0 L1117.0 756.6 L1118.0 759.8 L1119.0 760.1 L1120.0 758.8 L1121.0 759.4 L1122.0 757.2 L1123.0 759.4 L1124.0 760.2 L1125.0 760.4 L1126.0 757.9 L1127.0 760.4 L1128.0 759.5 L1129.0 760.2 L1130.0 758.9 L1131.0 760.0 L1132.0 759.2 L1133.0 763.0 L1134.0 758.3 L1135.0 760.7 L1136.0 758.6 L1137.0 756.0 L1138.0 759.2 L1139.0 760.4 L1140.0 759.4 L1141.0 759.3 L1142.0 756.3 L1142.2 757.6 L1143.0 756.7 L1144.0 751.2 L1144.2 753.4 L1145.0 757.9 L1146.0 759.9 L1146.2 757.3 L1147.0 755.6 L1148.0 756.6 L1149.0 755.1 L1150.0 757.0 L1151.0 755.7 L1152.0 756.1 L1153.0 754.8 L1154.0 755.9 L1155.0 757.7 L1156.0 756.0 L1157.0 757.7 L1158.0 756.4 L1159.0 762.2 L1160.0 768.4 L1161.0 762.5 L1162.0 756.0 L1163.0 753.9 L1163.3 755.9 L1164.0 753.4 L1165.0 740.1 L1165.3 741.1 L1166.0 744.6 L1167.0 752.6 L1167.3 755.6 L1168.0 756.5 L1169.0 753.8 L1170.0 756.5 L1171.0 758.7 L1172.0 755.9 L1173.0 751.3 L1174.0 756.8 L1174.8 755.0 L1175.0 756.0 L1176.0 769.3 L1176.8 775.4 L1177.0 775.6 L1178.0 764.1 L1178.8 754.7 L1179.0 756.5 L1180.0 754.5 L1181.0 752.5 L1182.0 754.4 L1182.7 754.4 L1183.0 755.6 L1184.0 749.9 L1184.7 752.5 L1185.0 752.9 L1186.0 750.6 L1186.7 754.1 L1187.0 756.1 L1188.0 757.3 L1189.0 755.6 L1190.0 753.3 L1191.0 755.2 L1191.5 753.7 L1192.0 754.9 L1193.0 750.5 L1193.5 746.4 L1194.0 750.0 L1195.0 754.3 L1195.5 753.4 L1196.0 751.8 L1197.0 753.2 L1198.0 754.1 L1199.0 753.3 L1200.0 753.0 L1201.0 749.7 L1202.0 752.9 L1203.0 757.4 L1204.0 762.2 L1205.0 756.3 L1206.0 752.6 L1207.0 753.0 L1208.0 753.2 L1209.0 752.4 L1210.0 748.8 L1211.0 749.9 L1212.0 749.8 L1213.0 752.2 L1214.0 752.6 L1215.0 750.5 L1216.0 752.2 L1217.0 750.8 L1218.0 751.0 L1219.0 753.6 L1220.0 751.8 L1221.0 751.0 L1222.0 754.5 L1223.0 751.2 L1224.0 751.6 L1224.9 751.4 L1225.0 751.5 L1226.0 754.8 L1226.9 748.1 L1227.0 749.3 L1228.0 751.4 L1228.9 751.2 L1229.0 750.6 L1230.0 752.7 L1231.0 753.2 L1232.0 749.2 L1233.0 751.9 L1234.0 753.9 L1235.0 754.1 L1236.0 751.3 L1237.0 754.8 L1238.0 749.5 L1239.0 752.5 L1240.0 750.5 L1241.0 751.0 L1242.0 749.5 L1243.0 751.3 L1244.0 749.2 L1245.0 749.7 L1246.0 750.2 L1247.0 749.1 L1248.0 751.3 L1249.0 749.7 L1250.0 749.0 L1251.0 750.3 L1252.0 750.0 L1253.0 749.0 L1254.0 749.4 L1255.0 750.7 L1256.0 750.6 L1257.0 748.4 L1258.0 750.7 L1259.0 750.6 L1260.0 750.8 L1261.0 749.3 L1262.0 749.0 L1263.0 749.6 L1264.0 749.0 L1265.0 749.4 L1266.0 749.1 L1267.0 749.3 L1268.0 749.1 L1269.0 749.6 L1270.0 749.5 L1271.0 749.7 L1272.0 749.3 L1273.0 749.1 L1274.0 751.0 L1275.0 750.4 L1276.0 750.1 L1277.0 748.8 L1278.0 750.2 L1279.0 749.5 L1280.0 750.2 L1281.0 749.9 L1282.0 752.0 L1283.0 749.7 L1284.0 748.8 L1285.0 750.8 L1286.0 750.8 L1287.0 751.0 L1288.0 747.5 L1289.0 749.0 L1290.0 749.2 L1291.0 748.4 L1292.0 750.1 L1293.0 750.6 L1294.0 751.0 L1295.0 750.9 L1296.0 750.1 L1297.0 751.5 L1298.0 750.4 L1299.0 747.6 L1300.0 750.1 L1302.0 750.0 L1304.0 750.4 L1306.0 750.3 L1308.0 750.4 L1308.8 750.5 L1310.0 751.0 L1312.0 750.4 L1314.0 750.3 L1316.0 750.9 L1318.0 751.0 L1320.0 751.5 L1322.0 751.8 L1324.0 752.7 L1324.6 753.0 L1326.0 754.6 L1328.0 759.5 L1329.9 765.7 L1330.0 765.8 L1332.0 772.4 L1334.0 780.8 L1335.2 785.1 L1336.0 788.1 L1338.0 796.3 L1340.0 803.8 L1342.0 812.0 L1342.2 813.2 L1344.0 821.6 L1346.0 831.7 L1347.5 839.6 L1348.0 842.8 L1350.0 854.5 L1352.0 867.2 L1352.8 871.2 L1354.0 876.2 L1356.0 882.9 L1358.0 888.8 L1360.0 893.8 L1362.0 898.6 L1364.0 903.2 L1366.0 905.9 L1367.7 906.4 L1368.0 905.7 L1370.0 902.1 L1372.0 895.0 L1373.9 887.1 L1374.0 886.6 L1376.0 874.8 L1378.0 859.8 L1380.0 847.2 L1380.9 843.1 L1382.0 839.6 L1384.0 832.9 L1386.0 827.6 L1388.0 824.9 L1388.8 824.6 L1390.0 825.2 L1392.0 830.1 L1394.0 836.5 L1395.0 839.6 L1396.0 843.4 L1398.0 855.5 L1400.0 867.0 L1402.0 874.8 L1404.0 879.1 L1406.0 882.2 L1408.0 884.7 L1410.0 886.3 L1410.8 886.2 L1412.0 883.8 L1414.0 874.7 L1416.0 864.2 L1416.1 864.2 L1418.0 857.5 L1420.0 850.5 L1422.0 843.6 L1423.1 839.6 L1424.0 835.7 L1426.0 826.6 L1428.0 817.2 L1430.0 809.9 L1430.1 809.7 L1432.0 804.7 L1434.0 800.6 L1436.0 796.7 L1438.0 793.8 L1438.9 793.9 L1440.0 794.7 L1442.0 796.9 L1444.0 800.5 L1446.0 804.4 L1448.0 809.9 L1450.0 816.5 L1452.0 824.8 L1454.0 829.9 L1455.6 830.8 L1456.0 830.7 L1458.0 826.4 L1460.0 818.8 L1462.0 811.1 L1463.6 807.9 L1464.0 807.6 L1466.0 805.6 L1468.0 804.2 L1468.8 804.4 L1470.0 804.3 L1472.0 804.6 L1474.0 805.2 L1475.9 806.2 L1476.0 806.1 L1478.0 809.5 L1480.0 813.1 L1481.1 814.1 L1482.0 813.6 L1484.0 814.2 L1486.0 812.9 L1488.0 812.7 L1490.0 811.2 L1492.0 810.0 L1493.5 808.8 L1494.0 808.1 L1496.0 804.8 L1498.0 799.7 L1500.0 795.3 L1502.0 793.2 L1502.3 793.0 L1504.0 793.9 L1506.0 797.5 L1508.0 801.0 L1510.0 804.9 L1512.0 807.8 L1512.8 807.9 L1514.0 807.3 L1516.0 804.3 L1518.0 801.5 L1518.1 800.9 L1520.0 799.3 L1522.0 797.6 L1524.0 795.8 L1526.0 794.3 L1528.0 793.1 L1530.0 792.4 L1532.0 791.9 L1532.1 792.1 L1534.0 793.3 L1536.0 796.8 L1538.0 800.4 L1540.0 803.3 L1541.0 803.5 L1542.0 803.5 L1544.0 803.8 L1546.0 804.1 L1548.0 803.9 L1549.7 804.4 L1550.0 804.2 L1552.0 807.0 L1554.0 811.1 L1556.0 816.8 L1558.0 821.8 L1560.0 825.6 L1562.0 827.3 L1564.0 826.4 L1566.0 825.6 L1567.3 823.8 L1568.0 821.6 L1570.0 806.4 L1572.0 792.7 L1572.6 792.1 L1574.0 792.1 L1576.0 793.7 L1578.0 796.0 L1580.0 796.7 L1581.4 797.4 L1582.0 797.0 L1584.0 791.1 L1586.0 781.3 L1588.0 776.2 L1588.4 776.3 L1590.0 776.1 L1592.0 775.0 L1594.0 775.7 L1596.0 775.3 L1598.0 774.5 L1600.0 776.5 L1600.7 774.5 L1602.0 773.2 L1604.0 771.8 L1606.0 767.5 L1608.0 765.9 L1610.0 763.4 L1612.0 763.8 L1614.0 763.1 L1616.0 761.4 L1618.0 758.1 L1620.0 759.4 L1621.8 758.7 L1622.0 757.4 L1624.0 758.3 L1626.0 760.9 L1628.0 759.1 L1630.0 764.5 L1632.0 762.0 L1634.0 764.1 L1634.2 765.7 L1636.0 770.2 L1638.0 776.1 L1640.0 781.8 L1641.2 783.3 L1642.0 781.8 L1644.0 780.2 L1646.0 775.8 L1648.0 772.7 L1650.0 769.0 L1652.0 765.8 L1653.6 766.0 L1654.0 764.4 L1656.0 766.3 L1658.0 764.8 L1660.0 767.3 L1662.0 769.5 L1664.0 770.2 L1665.6 769.8 L1666.0 769.2 L1668.0 765.2 L1670.0 764.9 L1672.0 761.7 L1673.2 759.2 L1674.0 758.2 L1676.0 757.3 L1678.0 755.2 L1679.2 753.2 L1685.2 739.5 L1685.8 745.9 L1687.4 744.6 L1689.6 741.0 L1691.8 746.7 L1694.0 741.9 L1696.2 747.2 L1698.4 743.7 L1699.7 742.3 L1700.6 747.3 L1700.9 749.0 L1702.8 742.5 L1705.0 749.3 L1707.2 740.3 L1709.4 750.2 L1711.6 738.9 L1713.8 748.7 L1714.8 737.3 L1716.0 751.7 L1718.2 740.6 L1720.4 748.1 L1722.6 738.9 L1724.8 746.5 L1727.0 739.5 L1729.2 745.9 L1729.9 737.1 L1731.1 747.8 L1731.4 738.2 L1733.6 748.3 L1735.8 743.9 L1738.0 751.9 L1740.2 747.5 L1741.9 747.8 L1742.4 753.8 L1743.1 755.0 L1744.6 748.9 L1746.8 755.5 L1749.0 750.1 L1751.2 754.7 L1753.4 749.0 L1755.6 755.2 L1757.0 748.4 L1757.8 749.9 L1758.2 758.2 L1760.0 757.4 L1762.2 751.2 L1764.4 760.3 L1766.6 752.0 L1767.5 751.2 L1768.7 762.7 L1768.8 760.2 L1771.0 753.7 L1773.2 763.8 L1775.4 757.6 L1777.6 766.4 L1778.1 758.6 L1779.3 767.8 L1779.8 761.9 L1782.0 769.8 L1784.2 767.9 L1786.4 776.0 L1787.1 771.7 L1788.3 779.4 L1788.6 773.7 L1790.8 781.2 L1793.0 775.1 L1793.2 772.6 L1794.4 784.3 L1795.2 785.3 L1797.4 779.5 L1799.6 789.9 L1801.8 785.6 L1804.0 796.6 L1805.2 786.9 L1806.2 789.3 L1806.4 800.0 L1808.4 798.1 L1810.6 787.5 L1812.8 795.9 L1815.0 785.1 L1817.2 797.9 L1818.8 780.4 L1819.4 781.4 L1820.0 798.9 L1821.6 798.8 L1823.8 789.0 L1826.0 799.5 L1827.9 795.6 L1828.2 797.0 L1829.1 803.8 L1830.4 803.0 L1832.6 797.8 L1834.8 807.5 L1837.0 798.1 L1839.2 814.1 L1839.9 798.1 L1841.1 817.0 L1841.4 803.0 L1843.6 817.2 L1845.8 803.6 L1848.0 819.9 L1850.2 803.7 L1852.4 819.9 L1853.5 805.4 L1854.6 808.6 L1854.7 823.8 L1856.8 825.6 L1859.0 813.1 L1861.2 832.6 L1863.4 816.6 L1865.5 817.2 L1865.6 840.6 L1866.7 843.7 L1867.8 818.7 L1870.0 840.5 L1872.2 826.0 L1874.4 840.5 L1876.6 824.8 L1877.6 822.1 L1878.8 840.7 L1881.0 839.3 L1883.2 819.1 L1885.4 834.9 L1887.6 811.9 L1889.7 807.9 L1889.8 833.0 L1890.9 837.8 L1892.0 813.7 L1894.2 836.8 L1896.4 811.2 L1898.6 837.8 L1898.7 803.0 L1899.9 837.9 L1900.8 809.1 L1903.0 827.2 L1905.2 794.5 L1907.4 837.0 L1909.3 785.6 L1909.6 795.9 L1910.5 845.0 L1911.8 854.9 L1912.3 819.6 L1913.5 869.4 L1914.0 844.3 L1916.2 871.8 L1916.8 854.5 L1918.0 875.5 L1918.4 858.6 L1920.6 861.0 L1921.3 855.9" fill="none" stroke="#fdc300" stroke-width="5.6" stroke-linejoin="round" stroke-linecap="round"/>
<path d="M180.0 972.5 L182.0 971.3 L184.0 972.5 L186.0 973.5 L188.0 973.0 L190.0 972.9 L192.0 971.9 L194.0 971.6 L196.0 972.7 L198.0 972.4 L200.0 972.0 L202.0 971.9 L204.0 972.7 L206.0 972.5 L208.0 971.8 L210.0 972.0 L212.0 971.0 L214.0 971.3 L216.0 972.3 L218.0 971.7 L220.0 972.0 L222.0 971.4 L224.0 972.0 L226.0 972.6 L228.0 971.3 L230.0 971.6 L232.0 971.6 L234.0 973.2 L236.0 972.3 L238.0 971.8 L240.0 970.7 L242.0 972.0 L244.0 971.9 L246.0 971.4 L248.0 971.0 L250.0 971.2 L252.0 970.4 L254.0 971.2 L256.0 971.1 L258.0 970.9 L260.0 971.5 L262.0 971.2 L264.0 970.5 L266.0 972.1 L268.0 971.3 L270.0 970.7 L272.0 971.9 L274.0 971.8 L276.0 971.2 L278.0 970.7 L280.0 971.5 L282.0 971.9 L284.0 972.0 L286.0 972.2 L288.0 972.2 L290.0 970.8 L292.0 971.8 L294.0 970.7 L296.0 972.4 L298.0 972.1 L300.0 972.0 L302.0 972.5 L304.0 972.1 L306.0 972.1 L308.0 971.9 L310.0 970.7 L312.0 972.4 L314.0 974.2 L316.0 973.5 L318.0 972.7 L320.0 973.2 L322.0 973.4 L324.0 972.8 L326.0 973.2 L328.0 973.5 L330.0 973.4 L332.0 973.0 L334.0 973.6 L336.0 974.1 L338.0 973.8 L340.0 973.4 L340.6 973.4 L342.0 973.3 L344.0 973.8 L346.0 973.7 L348.0 974.1 L350.0 975.3 L352.0 975.4 L354.0 975.7 L356.0 977.3 L358.0 978.0 L360.0 978.9 L362.0 979.2 L364.0 980.4 L365.2 980.5 L366.0 980.7 L368.0 981.1 L370.0 982.1 L372.0 983.1 L374.0 983.4 L376.0 984.6 L378.0 985.6 L380.0 986.2 L382.0 987.3 L384.0 988.2 L386.0 988.9 L388.0 990.2 L390.0 991.3 L392.0 991.4 L394.0 992.8 L396.0 994.3 L396.8 994.5 L398.0 995.2 L400.0 995.5 L402.0 997.4 L404.0 999.0 L406.0 1000.0 L408.0 1001.2 L410.0 1002.1 L412.0 1003.4 L414.0 1004.2 L416.0 1005.7 L418.0 1007.6 L419.7 1007.7 L420.0 1007.8 L422.0 1008.5 L424.0 1010.0 L426.0 1010.0 L428.0 1012.5 L430.0 1012.9 L432.0 1013.5 L434.0 1014.3 L436.0 1015.0 L438.0 1016.1 L440.0 1016.9 L442.0 1017.0 L444.0 1018.5 L444.3 1018.3 L446.0 1018.7 L448.0 1019.0 L450.0 1020.2 L452.0 1020.7 L454.0 1020.7 L456.0 1021.1 L458.0 1022.2 L460.0 1022.1 L462.0 1022.7 L464.0 1023.6 L466.0 1023.0 L468.0 1023.3 L470.0 1024.0 L470.7 1024.4 L472.0 1024.4 L474.0 1025.0 L476.0 1025.6 L478.0 1025.4 L480.0 1026.4 L482.0 1026.1 L484.0 1025.6 L486.0 1026.6 L488.0 1027.3 L490.0 1027.8 L491.8 1027.9 L492.0 1027.7 L494.0 1028.7 L496.0 1030.5 L498.0 1031.0 L500.0 1032.0 L502.0 1033.3 L504.0 1035.2 L505.9 1036.7 L506.0 1036.9 L508.0 1038.0 L510.0 1040.7 L512.0 1041.8 L514.0 1043.3 L516.0 1046.0 L518.0 1047.2 L520.0 1048.2 L522.0 1048.9 L524.0 1050.1 L526.0 1050.1 L528.0 1051.1 L530.0 1051.1 L532.0 1052.2 L534.0 1051.7 L536.0 1051.6 L538.0 1051.3 L540.0 1051.1 L542.0 1050.3 L544.0 1049.9 L546.0 1049.0 L548.0 1048.6 L550.0 1047.8 L551.6 1047.3 L552.0 1047.0 L554.0 1046.8 L556.0 1046.2 L558.0 1045.1 L560.0 1044.7 L562.0 1043.6 L564.0 1043.6 L566.0 1043.2 L568.0 1043.1 L570.0 1041.7 L572.0 1041.2 L574.0 1040.7 L576.0 1039.7 L578.0 1038.1 L580.0 1037.8 L582.0 1037.3 L583.3 1036.7 L584.0 1036.5 L586.0 1035.7 L588.0 1034.5 L590.0 1033.3 L592.0 1033.2 L594.0 1032.5 L596.0 1031.0 L598.0 1030.4 L600.0 1029.1 L602.0 1028.2 L602.6 1027.9 L604.0 1026.9 L606.0 1026.0 L608.0 1023.8 L610.0 1022.5 L612.0 1021.3 L614.0 1019.7 L616.0 1018.3 L618.0 1018.5 L618.4 1018.3 L620.0 1018.3 L622.0 1018.0 L624.0 1018.5 L626.0 1018.6 L628.0 1019.1 L630.0 1018.9 L632.0 1019.3 L634.0 1019.7 L636.0 1019.0 L638.0 1020.2 L640.0 1019.9 L642.0 1019.6 L643.0 1020.0 L644.0 1020.0 L646.0 1019.6 L648.0 1017.8 L650.0 1016.5 L652.0 1015.9 L654.0 1014.9 L655.4 1013.9 L656.0 1014.5 L658.0 1013.5 L660.0 1013.2 L662.0 1011.9 L664.0 1010.2 L666.0 1008.3 L668.0 1006.1 L670.0 1004.9 L670.6 1004.4 L672.0 1004.1 L674.0 1002.2 L676.0 1002.1 L678.0 1000.7 L679.3 1000.9 L680.0 1000.7 L682.0 1001.1 L684.0 1002.9 L686.0 1003.8 L688.0 1005.1 L690.0 1004.9 L691.7 1006.2 L692.0 1006.0 L694.0 1006.3 L696.0 1005.2 L698.0 1006.9 L700.0 1006.3 L702.0 1006.6 L704.0 1006.1 L706.0 1006.5 L708.0 1006.7 L710.0 1007.1 L712.0 1005.8 L714.0 1006.9 L716.0 1005.8 L716.3 1006.2 L718.0 1005.8 L720.0 1004.1 L722.0 1002.0 L724.0 998.9 L726.0 997.2 L728.0 995.1 L730.0 994.7 L730.3 994.7 L732.0 994.8 L734.0 994.7 L736.0 994.7 L738.0 995.2 L740.0 994.8 L742.0 994.9 L742.7 994.7 L744.0 995.1 L746.0 993.9 L748.0 992.9 L750.0 991.7 L752.0 989.9 L754.0 988.9 L756.0 987.0 L758.0 986.1 L758.5 986.0 L760.0 985.5 L762.0 984.9 L764.0 984.5 L766.0 983.9 L768.0 982.8 L770.0 983.6 L772.0 982.7 L774.0 982.8 L776.0 981.8 L778.0 982.0 L780.0 980.9 L782.0 981.5 L783.1 980.7 L784.0 980.5 L786.0 979.9 L788.0 978.5 L790.0 978.2 L792.0 978.3 L794.0 977.7 L796.0 977.2 L798.0 976.7 L800.0 976.7 L802.0 975.8 L804.0 975.3 L806.0 974.8 L808.0 974.4 L809.5 974.5 L810.0 974.6 L812.0 974.0 L814.0 973.8 L816.0 973.8 L818.0 973.5 L820.0 973.6 L822.0 973.4 L824.0 972.5 L826.0 972.5 L828.0 973.0 L830.0 972.3 L832.0 972.5 L834.0 971.8 L835.9 971.9 L836.0 971.0 L838.0 970.9 L840.0 971.2 L842.0 971.1 L844.0 971.9 L846.0 971.1 L848.0 970.9 L850.0 970.7 L852.0 969.7 L854.0 970.0 L856.0 969.7 L858.0 970.3 L860.0 969.1 L862.0 968.6 L864.0 969.0 L866.0 968.7 L868.0 968.6 L870.0 968.4 L872.0 968.2 L874.0 967.8 L876.0 967.7 L878.0 968.5 L879.8 967.5 L880.0 967.3 L882.0 967.5 L884.0 966.9 L886.0 966.5 L888.0 967.2 L890.0 966.9 L892.0 967.1 L894.0 966.9 L896.0 966.5 L898.0 966.0 L900.0 966.8 L902.0 966.1 L904.0 966.7 L906.0 966.0 L908.0 966.0 L910.0 965.8 L912.0 965.6 L914.0 965.3 L916.0 966.1 L918.0 964.9 L920.0 964.5 L922.0 965.1 L923.8 964.8 L924.0 964.6 L926.0 965.1 L928.0 964.6 L930.0 965.0 L932.0 964.6 L934.0 964.2 L936.0 964.2 L938.0 964.5 L940.0 964.0 L942.0 963.8 L944.0 964.0 L946.0 964.1 L948.0 964.3 L950.0 964.0 L952.0 964.1 L954.0 963.6 L956.0 964.3 L958.0 964.3 L960.0 963.3 L962.0 963.5 L964.0 963.3 L966.0 963.4 L967.8 963.1 L968.0 963.1 L970.0 962.8 L972.0 962.5 L974.0 962.7 L976.0 962.7 L978.0 963.0 L980.0 962.7 L982.0 962.3 L984.0 962.1 L986.0 961.7 L988.0 962.4 L990.0 962.1 L991.0 962.3 L992.0 962.3 L993.0 962.0 L994.0 962.3 L995.0 962.0 L996.0 962.0 L997.0 961.7 L998.0 961.8 L999.0 962.2 L1000.0 964.2 L1001.0 961.8 L1002.0 962.4 L1003.0 965.0 L1004.0 962.2 L1005.0 961.8 L1006.0 962.1 L1007.0 961.9 L1008.0 960.4 L1009.0 962.9 L1010.0 960.5 L1011.0 961.6 L1012.0 961.7 L1013.0 962.5 L1014.0 961.9 L1015.0 961.6 L1016.0 961.3 L1017.0 962.3 L1018.0 961.7 L1019.0 961.4 L1020.0 960.8 L1021.0 961.3 L1022.0 962.2 L1023.0 960.6 L1024.0 962.1 L1025.0 962.1 L1026.0 963.0 L1027.0 961.4 L1028.0 961.1 L1029.0 961.9 L1030.0 962.0 L1031.0 961.6 L1032.0 959.6 L1033.0 963.0 L1034.0 962.2 L1035.0 962.1 L1036.0 961.2 L1037.0 962.3 L1038.0 961.7 L1039.0 963.4 L1040.0 962.6 L1041.0 963.2 L1042.0 960.9 L1043.0 961.2 L1044.0 961.6 L1045.0 961.4 L1046.0 963.4 L1047.0 962.3 L1048.0 961.0 L1049.0 961.7 L1050.0 963.6 L1051.0 961.7 L1052.0 962.5 L1053.0 960.4 L1054.0 961.5 L1055.0 961.8 L1056.0 961.7 L1057.0 962.0 L1058.0 962.3 L1059.0 963.0 L1060.0 962.0 L1061.0 959.0 L1062.0 962.0 L1063.0 963.1 L1064.0 962.3 L1065.0 963.8 L1066.0 961.6 L1067.0 961.0 L1068.0 960.3 L1069.0 963.2 L1070.0 959.5 L1071.0 960.9 L1072.0 961.5 L1073.0 962.6 L1074.0 961.1 L1075.0 959.9 L1075.4 961.6 L1076.0 964.0 L1077.0 965.7 L1077.4 968.4 L1078.0 965.6 L1079.0 958.8 L1079.4 961.5 L1080.0 961.7 L1080.7 961.5 L1081.0 961.4 L1082.0 956.4 L1082.7 958.7 L1083.0 958.4 L1084.0 961.4 L1084.7 961.4 L1085.0 960.1 L1086.0 958.4 L1087.0 961.0 L1088.0 962.2 L1088.6 961.3 L1089.0 958.7 L1090.0 968.1 L1090.6 968.4 L1091.0 967.4 L1092.0 964.2 L1092.6 961.2 L1093.0 959.3 L1094.0 962.5 L1095.0 961.5 L1096.0 962.2 L1097.0 961.0 L1098.0 962.5 L1099.0 960.6 L1100.0 961.0 L1101.0 960.1 L1102.0 959.1 L1103.0 958.1 L1104.0 960.9 L1105.0 960.2 L1106.0 960.5 L1107.0 960.2 L1108.0 961.2 L1109.0 960.7 L1110.0 959.6 L1111.0 961.8 L1112.0 964.1 L1113.0 959.0 L1114.0 959.7 L1115.0 961.3 L1116.0 959.1 L1117.0 961.9 L1117.6 960.3 L1118.0 958.9 L1119.0 957.6 L1119.6 959.6 L1120.0 957.9 L1121.0 961.7 L1121.6 960.1 L1122.0 956.6 L1123.0 960.2 L1124.0 956.4 L1125.0 961.3 L1126.0 960.7 L1127.0 961.1 L1128.0 963.6 L1129.0 959.9 L1130.0 961.9 L1131.0 960.9 L1132.0 961.7 L1133.0 958.6 L1134.0 961.8 L1135.0 959.3 L1136.0 962.3 L1137.0 961.4 L1138.0 959.9 L1139.0 960.7 L1140.0 960.6 L1141.0 960.0 L1142.0 964.1 L1143.0 958.1 L1144.0 957.2 L1145.0 957.2 L1146.0 959.0 L1147.0 959.3 L1148.0 960.5 L1149.0 961.0 L1150.0 959.0 L1151.0 959.6 L1152.0 959.5 L1153.0 957.6 L1154.0 960.9 L1155.0 961.5 L1156.0 958.9 L1157.0 960.3 L1158.0 958.0 L1159.0 959.0 L1160.0 959.1 L1160.7 958.6 L1161.0 959.6 L1162.0 948.3 L1162.7 947.3 L1163.0 948.4 L1164.0 957.1 L1164.7 958.4 L1165.0 959.3 L1166.0 959.8 L1167.0 954.4 L1168.0 957.1 L1168.6 958.3 L1169.0 958.7 L1170.0 963.8 L1170.6 966.6 L1171.0 962.0 L1172.0 962.0 L1172.6 958.1 L1173.0 958.7 L1173.9 958.0 L1174.0 954.9 L1175.0 954.2 L1175.9 952.5 L1176.0 952.8 L1177.0 957.4 L1177.9 957.9 L1178.0 959.2 L1179.0 956.3 L1180.0 956.9 L1181.0 958.4 L1182.0 959.6 L1183.0 957.2 L1184.0 956.8 L1185.0 958.8 L1186.0 958.0 L1187.0 960.1 L1188.0 958.5 L1189.0 959.3 L1190.0 954.2 L1191.0 955.2 L1192.0 954.8 L1193.0 956.2 L1194.0 957.9 L1195.0 956.8 L1196.0 958.1 L1197.0 955.9 L1198.0 958.8 L1199.0 958.5 L1200.0 957.0 L1201.0 954.1 L1202.0 955.2 L1203.0 955.9 L1204.0 958.4 L1205.0 958.3 L1206.0 960.0 L1207.0 954.3 L1208.0 957.2 L1208.2 956.8 L1209.0 953.7 L1210.0 947.9 L1210.2 948.1 L1211.0 950.9 L1212.0 952.9 L1212.2 956.7 L1213.0 957.2 L1214.0 956.0 L1215.0 954.5 L1216.0 959.1 L1217.0 955.5 L1218.0 957.1 L1219.0 955.5 L1220.0 954.0 L1221.0 955.8 L1222.0 957.1 L1223.0 954.9 L1224.0 957.4 L1225.0 959.5 L1226.0 958.6 L1227.0 956.0 L1228.0 955.2 L1229.0 958.1 L1230.0 954.1 L1231.0 954.7 L1232.0 959.4 L1233.0 957.1 L1234.0 957.3 L1235.0 955.9 L1236.0 961.3 L1237.0 961.8 L1238.0 956.1 L1239.0 957.8 L1240.0 956.0 L1241.0 956.7 L1242.0 957.4 L1243.0 957.3 L1244.0 955.9 L1245.0 956.5 L1246.0 956.0 L1247.0 958.6 L1248.0 956.9 L1249.0 957.2 L1250.0 956.4 L1251.0 955.7 L1252.0 954.7 L1253.0 954.7 L1254.0 953.9 L1255.0 954.3 L1256.0 954.4 L1257.0 955.8 L1258.0 953.5 L1259.0 955.3 L1260.0 953.0 L1261.0 957.0 L1262.0 954.0 L1263.0 954.6 L1264.0 956.0 L1265.0 954.1 L1266.0 954.3 L1267.0 954.3 L1268.0 954.6 L1269.0 953.6 L1270.0 954.0 L1271.0 955.7 L1272.0 955.1 L1273.0 954.2 L1274.0 955.2 L1275.0 954.0 L1276.0 953.6 L1277.0 954.0 L1278.0 954.6 L1279.0 952.7 L1280.0 953.9 L1281.0 954.6 L1282.0 953.2 L1283.0 954.6 L1284.0 953.3 L1285.0 954.5 L1286.0 954.3 L1287.0 954.7 L1288.0 953.7 L1289.0 952.6 L1290.0 952.1 L1291.0 958.0 L1292.0 953.2 L1293.0 953.8 L1294.0 953.2 L1295.0 956.0 L1296.0 955.5 L1297.0 955.7 L1298.0 953.9 L1299.0 955.9 L1300.0 954.8 L1302.0 955.6 L1304.0 955.3 L1306.0 954.8 L1308.0 955.7 L1310.0 955.7 L1312.0 956.9 L1314.0 956.0 L1316.0 956.6 L1317.6 956.9 L1318.0 956.9 L1320.0 957.5 L1322.0 959.0 L1324.0 961.2 L1326.0 963.6 L1326.4 964.0 L1328.0 966.5 L1330.0 971.3 L1331.7 976.3 L1332.0 977.3 L1334.0 985.3 L1336.0 995.0 L1336.9 999.1 L1338.0 1003.6 L1340.0 1011.5 L1342.0 1019.5 L1342.2 1020.2 L1344.0 1028.8 L1346.0 1039.0 L1347.5 1046.6 L1348.0 1049.1 L1350.0 1061.5 L1352.0 1072.5 L1352.8 1076.5 L1354.0 1081.8 L1356.0 1089.7 L1358.0 1095.9 L1360.0 1100.8 L1362.0 1104.8 L1364.0 1108.8 L1366.0 1110.9 L1367.7 1111.7 L1368.0 1111.4 L1370.0 1106.6 L1372.0 1096.5 L1373.9 1087.1 L1374.0 1087.0 L1376.0 1075.8 L1378.0 1064.2 L1380.0 1054.2 L1380.9 1050.1 L1382.0 1045.5 L1384.0 1038.9 L1386.0 1032.9 L1387.9 1030.8 L1388.0 1030.8 L1390.0 1031.8 L1392.0 1033.9 L1394.0 1038.2 L1395.0 1039.6 L1396.0 1042.7 L1398.0 1052.5 L1400.0 1064.6 L1402.0 1074.8 L1404.0 1084.6 L1406.0 1093.2 L1408.0 1097.3 L1408.2 1097.6 L1410.0 1096.1 L1412.0 1093.0 L1414.0 1089.3 L1414.3 1088.8 L1416.0 1084.8 L1418.0 1077.4 L1420.0 1069.8 L1422.0 1061.8 L1423.1 1057.2 L1424.0 1053.3 L1426.0 1044.1 L1428.0 1034.7 L1430.0 1027.6 L1430.1 1027.3 L1432.0 1021.4 L1434.0 1015.5 L1436.0 1010.6 L1438.0 1007.4 L1439.8 1006.2 L1440.0 1006.5 L1442.0 1007.7 L1444.0 1012.4 L1446.0 1017.2 L1447.7 1022.0 L1448.0 1022.2 L1450.0 1029.6 L1452.0 1038.1 L1454.0 1044.6 L1455.6 1046.6 L1456.0 1046.6 L1458.0 1043.5 L1460.0 1039.9 L1462.0 1034.5 L1463.6 1030.8 L1464.0 1030.2 L1466.0 1025.1 L1468.0 1022.5 L1468.8 1022.0 L1470.0 1021.8 L1472.0 1021.8 L1474.0 1022.0 L1475.9 1022.0 L1476.0 1021.5 L1478.0 1024.6 L1480.0 1028.9 L1482.0 1032.3 L1482.9 1032.6 L1484.0 1032.9 L1486.0 1031.6 L1488.0 1031.3 L1490.0 1030.3 L1492.0 1028.8 L1493.5 1028.2 L1494.0 1028.0 L1496.0 1024.9 L1498.0 1018.6 L1500.0 1013.9 L1502.0 1010.3 L1503.1 1009.7 L1504.0 1010.1 L1506.0 1013.3 L1508.0 1018.5 L1510.0 1023.4 L1512.0 1027.5 L1513.7 1029.0 L1514.0 1029.4 L1516.0 1026.2 L1518.0 1021.6 L1519.8 1018.5 L1520.0 1017.7 L1522.0 1016.3 L1524.0 1014.4 L1526.0 1012.5 L1528.0 1011.5 L1530.0 1009.5 L1532.0 1010.0 L1532.1 1009.7 L1534.0 1010.6 L1536.0 1014.2 L1538.0 1017.9 L1540.0 1021.7 L1541.0 1022.0 L1542.0 1022.1 L1544.0 1022.2 L1546.0 1022.5 L1548.0 1022.0 L1549.7 1022.9 L1550.0 1022.8 L1552.0 1025.3 L1554.0 1029.5 L1556.0 1035.4 L1558.0 1041.0 L1560.0 1046.9 L1562.0 1050.5 L1563.8 1051.9 L1564.0 1051.9 L1566.0 1048.2 L1568.0 1040.2 L1569.1 1036.1 L1570.0 1032.2 L1572.0 1022.6 L1574.0 1015.7 L1574.4 1015.8 L1576.0 1017.5 L1578.0 1020.8 L1580.0 1024.5 L1581.4 1025.5 L1582.0 1025.1 L1584.0 1017.9 L1586.0 1008.3 L1588.0 1001.3 L1588.4 1000.9 L1590.0 1000.4 L1592.0 999.1 L1594.0 998.4 L1596.0 997.4 L1597.2 997.4 L1598.0 997.4 L1600.0 998.7 L1602.0 997.5 L1604.0 997.8 L1606.0 999.1 L1608.0 997.6 L1610.0 991.2 L1611.3 988.6 L1612.0 988.3 L1614.0 984.6 L1616.0 984.6 L1618.0 983.5 L1620.0 982.6 L1621.8 983.3 L1622.0 983.5 L1624.0 982.6 L1626.0 983.2 L1628.0 987.7 L1630.0 987.9 L1632.0 988.4 L1634.0 993.9 L1634.2 992.1 L1636.0 996.6 L1638.0 1003.5 L1640.0 1007.2 L1642.0 1014.6 L1642.1 1013.2 L1644.0 1009.8 L1646.0 1005.9 L1648.0 1007.2 L1650.0 1008.0 L1652.0 1005.2 L1653.6 1006.7 L1654.0 1008.2 L1656.0 1000.8 L1658.0 994.7 L1658.1 994.6 L1660.0 993.1 L1662.0 999.6 L1664.0 1000.4 L1666.0 1002.5 L1667.1 1002.2 L1668.0 1000.3 L1670.0 997.0 L1672.0 990.7 L1673.2 987.8 L1674.0 988.4 L1676.0 984.4 L1678.0 981.9 L1680.0 981.9 L1680.7 981.8 L1682.0 978.5 L1684.0 974.8 L1686.0 970.6 L1686.7 970.5 L1688.0 971.0 L1690.0 973.5 L1692.0 975.9 L1694.0 976.3 L1696.0 976.1 L1697.3 978.0 L1698.0 977.7 L1700.0 974.8 L1702.0 971.1 L1704.0 968.3 L1704.8 968.2 L1706.0 968.6 L1708.0 968.9 L1710.0 974.1 L1710.9 974.3 L1712.0 975.2 L1714.0 975.7 L1716.0 975.8 L1718.0 977.2 L1719.9 976.5 L1720.0 974.7 L1722.0 973.5 L1724.0 969.5 L1725.9 966.7 L1726.0 966.1 L1728.0 966.5 L1730.0 967.6 L1732.0 966.4 L1733.5 966.7 L1734.0 965.8 L1736.0 968.4 L1738.0 973.0 L1740.0 974.7 L1742.0 978.5 L1742.5 978.8 L1744.0 977.8 L1746.0 978.2 L1748.0 978.8 L1750.0 978.4 L1751.6 977.3 L1752.0 977.3 L1754.0 981.2 L1756.0 987.0 L1757.6 987.8 L1758.0 986.3 L1760.0 986.8 L1762.0 982.6 L1764.0 983.9 L1766.0 979.6 L1768.0 975.6 L1769.7 977.3 L1770.0 977.4 L1771.2 987.8 L1772.0 989.8 L1774.0 990.5 L1776.0 988.2 L1778.0 994.5 L1778.7 992.4 L1780.0 994.0 L1782.0 997.2 L1784.0 999.6 L1786.0 1001.9 L1788.0 1002.9 L1789.3 1005.9 L1790.0 1005.7 L1792.0 1002.8 L1793.8 1001.4 L1794.0 1000.9 L1796.0 1004.2 L1798.0 1007.1 L1800.0 1009.4 L1802.0 1014.4 L1802.8 1016.5 L1804.0 1020.0 L1806.0 1019.2 L1808.0 1027.0 L1808.9 1024.0 L1810.0 1022.9 L1812.0 1027.5 L1814.0 1023.7 L1816.0 1020.0 L1817.9 1022.5 L1818.0 1023.1 L1820.0 1024.2 L1822.0 1027.4 L1824.0 1033.2 L1826.0 1038.2 L1828.0 1036.8 L1830.0 1043.6 L1832.0 1043.5 L1834.0 1038.7 L1836.0 1034.6 L1841.5 1045.0 L1842.1 1055.2 L1843.7 1055.9 L1845.9 1046.3 L1848.1 1061.3 L1850.3 1047.0 L1852.3 1045.1 L1852.5 1062.1 L1853.5 1068.0 L1854.7 1051.7 L1856.9 1068.2 L1859.1 1057.7 L1860.2 1054.1 L1861.3 1069.2 L1861.4 1072.3 L1863.5 1061.4 L1865.7 1073.4 L1867.9 1066.6 L1869.0 1065.5 L1870.1 1075.9 L1870.2 1077.0 L1872.3 1073.5 L1874.3 1072.5 L1874.5 1089.1 L1875.5 1095.3 L1876.7 1073.6 L1878.9 1091.3 L1881.1 1074.8 L1883.3 1095.4 L1884.8 1070.8 L1885.5 1073.7 L1886.0 1100.1 L1887.7 1095.9 L1889.9 1065.7 L1892.1 1094.4 L1892.8 1046.3 L1894.0 1099.7 L1894.3 1050.4 L1896.5 1102.8 L1898.0 1071.5 L1898.7 1084.1 L1899.2 1108.3 L1900.9 1103.2 L1903.1 1075.2 L1905.3 1096.1 L1905.9 1058.8 L1907.1 1100.6 L1907.5 1059.4 L1909.7 1089.9 L1911.9 1052.5 L1914.1 1102.8 L1916.3 1051.0 L1916.5 1043.4 L1917.7 1105.7 L1918.5 1094.6 L1920.7 1084.5 L1921.8 1090.8" fill="none" stroke="#2a5d9f" stroke-width="5.6" stroke-linejoin="round" stroke-linecap="round"/>
<path d="M180.0 1153.0 L182.0 1152.8 L184.0 1152.7 L186.0 1153.1 L188.0 1152.0 L190.0 1152.7 L192.0 1151.7 L194.0 1152.6 L196.0 1152.7 L198.0 1153.5 L200.0 1152.5 L202.0 1153.3 L204.0 1152.4 L206.0 1151.4 L208.0 1152.8 L210.0 1152.4 L212.0 1151.9 L214.0 1152.8 L216.0 1151.6 L218.0 1151.9 L220.0 1152.6 L222.0 1152.6 L224.0 1151.7 L226.0 1152.3 L228.0 1152.1 L230.0 1152.4 L232.0 1151.9 L234.0 1150.7 L236.0 1151.8 L238.0 1152.9 L240.0 1152.0 L242.0 1151.5 L244.0 1151.9 L246.0 1152.5 L248.0 1151.9 L250.0 1151.3 L252.0 1152.0 L254.0 1151.9 L256.0 1151.5 L258.0 1151.9 L260.0 1151.2 L262.0 1151.1 L264.0 1151.3 L266.0 1151.9 L268.0 1152.0 L270.0 1151.6 L272.0 1152.6 L274.0 1152.4 L276.0 1152.0 L278.0 1152.7 L280.0 1152.9 L282.0 1152.4 L284.0 1151.7 L286.0 1152.5 L288.0 1152.7 L290.0 1152.3 L292.0 1151.9 L294.0 1152.2 L296.0 1152.2 L298.0 1150.9 L300.0 1153.0 L300.6 1152.0 L302.0 1152.0 L304.0 1153.2 L306.0 1152.1 L308.0 1151.6 L310.0 1152.6 L312.0 1152.2 L314.0 1152.7 L316.0 1152.0 L318.0 1152.1 L320.0 1152.0 L322.0 1152.1 L324.0 1152.8 L326.0 1151.9 L328.0 1152.9 L330.0 1153.5 L332.0 1152.4 L334.0 1153.0 L336.0 1152.8 L338.0 1153.1 L340.0 1153.5 L342.0 1153.7 L344.0 1154.2 L346.0 1154.5 L348.0 1154.3 L350.0 1155.2 L352.0 1155.2 L354.0 1155.5 L356.0 1156.0 L358.0 1156.2 L360.0 1157.4 L361.0 1157.6 L362.0 1157.2 L364.0 1158.4 L366.0 1159.8 L368.0 1159.1 L370.0 1159.3 L372.0 1160.8 L374.0 1161.0 L376.0 1162.0 L378.0 1162.7 L380.0 1163.5 L382.0 1165.0 L384.0 1165.1 L386.0 1165.9 L388.0 1166.6 L390.0 1167.3 L391.0 1168.0 L392.0 1168.2 L394.0 1169.1 L396.0 1170.9 L398.0 1171.7 L400.0 1173.2 L402.0 1174.4 L404.0 1176.4 L406.0 1177.0 L408.0 1178.6 L410.0 1179.7 L412.0 1181.8 L414.0 1182.8 L416.0 1184.3 L418.0 1185.3 L420.0 1187.5 L421.0 1188.0 L422.0 1189.3 L424.0 1190.7 L426.0 1191.4 L428.0 1193.7 L430.0 1194.7 L432.0 1196.0 L434.0 1197.8 L436.0 1200.3 L438.0 1201.5 L440.0 1202.8 L442.0 1205.0 L444.0 1206.6 L446.0 1208.0 L448.0 1209.9 L450.0 1211.1 L451.0 1212.0 L452.0 1213.2 L454.0 1214.6 L456.0 1215.8 L458.0 1217.5 L460.0 1219.2 L462.0 1220.3 L464.0 1222.0 L466.0 1223.3 L468.0 1224.7 L470.0 1225.6 L472.0 1227.2 L474.0 1228.7 L476.0 1230.4 L478.0 1232.7 L480.0 1232.7 L481.5 1234.0 L482.0 1234.2 L484.0 1235.1 L486.0 1236.7 L488.0 1238.0 L490.0 1239.5 L492.0 1239.9 L494.0 1241.7 L496.0 1242.6 L498.0 1243.5 L500.0 1244.5 L502.0 1244.9 L504.0 1245.8 L506.0 1246.9 L508.0 1247.9 L510.0 1248.4 L512.0 1248.8 L514.0 1249.9 L516.0 1250.1 L518.0 1251.5 L518.8 1251.5 L520.0 1253.0 L522.0 1252.6 L524.0 1254.0 L526.0 1254.1 L528.0 1255.3 L530.0 1256.3 L532.0 1257.3 L534.0 1257.5 L536.0 1258.6 L537.7 1258.5 L538.0 1258.1 L540.0 1258.9 L542.0 1259.4 L544.0 1259.7 L546.0 1259.8 L548.0 1259.4 L550.0 1259.3 L552.0 1257.6 L553.4 1257.0 L554.0 1257.1 L556.0 1255.8 L558.0 1255.2 L560.0 1253.2 L562.0 1252.3 L562.8 1251.5 L564.0 1250.9 L566.0 1248.3 L568.0 1248.2 L570.0 1247.0 L572.0 1245.7 L574.0 1243.4 L576.0 1242.3 L578.0 1241.5 L579.7 1240.0 L580.0 1239.4 L582.0 1238.4 L584.0 1237.8 L586.0 1236.8 L588.0 1236.0 L590.0 1234.9 L592.0 1233.6 L594.0 1232.2 L596.0 1231.3 L598.0 1230.4 L600.0 1229.4 L602.0 1228.0 L604.0 1226.7 L606.0 1225.6 L608.0 1223.6 L610.0 1222.2 L612.0 1220.3 L614.0 1219.9 L616.0 1217.5 L618.0 1216.2 L620.0 1214.6 L622.0 1212.6 L624.0 1210.7 L626.0 1208.9 L628.0 1207.3 L630.0 1205.1 L632.0 1204.0 L634.0 1202.2 L636.0 1200.9 L638.0 1199.1 L640.0 1197.5 L642.0 1195.7 L644.0 1193.9 L646.0 1192.0 L648.0 1190.2 L650.0 1188.8 L652.0 1186.6 L654.0 1184.6 L656.0 1183.7 L658.0 1181.8 L660.0 1180.6 L662.0 1178.7 L664.0 1177.0 L666.0 1174.9 L668.0 1173.7 L670.0 1171.8 L672.0 1170.1 L674.0 1169.5 L676.0 1167.9 L678.0 1166.6 L680.0 1166.1 L680.5 1166.6 L682.0 1166.6 L684.0 1166.8 L686.0 1166.7 L688.0 1167.0 L689.5 1166.6 L690.0 1166.8 L692.0 1168.2 L694.0 1170.0 L696.0 1171.3 L698.0 1175.0 L698.8 1176.0 L700.0 1179.7 L702.0 1190.4 L703.0 1195.0 L704.0 1199.3 L706.0 1209.2 L707.3 1214.0 L708.0 1216.2 L710.0 1219.4 L711.0 1220.5 L712.0 1219.8 L714.0 1215.2 L714.5 1214.0 L716.0 1208.1 L718.0 1198.7 L718.5 1198.0 L720.0 1200.6 L721.5 1204.0 L722.0 1205.5 L724.0 1212.3 L725.0 1214.5 L726.0 1214.9 L728.0 1212.0 L730.0 1209.0 L731.8 1206.0 L732.0 1205.7 L734.0 1201.3 L736.0 1197.6 L738.0 1193.1 L739.2 1191.4 L740.0 1189.9 L742.0 1187.8 L744.0 1185.8 L746.0 1184.9 L747.1 1184.4 L748.0 1183.8 L750.0 1182.6 L752.0 1182.1 L754.0 1181.2 L756.0 1180.6 L756.8 1180.0 L758.0 1179.4 L760.0 1178.2 L762.0 1176.9 L764.0 1175.6 L766.0 1174.5 L768.0 1173.7 L770.0 1172.1 L772.0 1171.5 L774.0 1169.9 L776.0 1167.7 L777.9 1166.8 L778.0 1166.9 L780.0 1165.4 L782.0 1162.7 L784.0 1161.6 L786.0 1159.7 L786.4 1159.8 L788.0 1160.0 L790.0 1159.2 L792.0 1158.5 L794.0 1157.6 L796.0 1157.9 L798.0 1157.3 L800.0 1157.5 L802.0 1156.8 L804.0 1157.1 L806.0 1156.5 L808.0 1156.7 L810.0 1156.7 L812.0 1156.3 L814.0 1156.2 L816.0 1156.3 L818.0 1155.4 L820.0 1155.8 L822.0 1155.5 L824.0 1155.8 L826.0 1155.0 L828.0 1155.1 L830.0 1154.0 L830.3 1154.5 L832.0 1154.7 L834.0 1154.1 L836.0 1153.8 L838.0 1153.7 L840.0 1152.6 L842.0 1152.7 L844.0 1152.5 L846.0 1152.0 L848.0 1151.6 L850.0 1151.8 L852.0 1151.1 L854.0 1150.7 L856.0 1150.4 L858.0 1150.5 L860.0 1150.4 L862.0 1149.8 L864.0 1149.3 L866.0 1148.3 L868.0 1148.3 L870.0 1147.9 L872.0 1147.6 L874.0 1148.1 L876.0 1147.2 L878.0 1147.6 L880.0 1147.0 L882.0 1146.7 L883.1 1146.6 L884.0 1146.5 L886.0 1145.8 L888.0 1146.0 L890.0 1146.3 L892.0 1146.1 L894.0 1145.8 L896.0 1145.8 L898.0 1145.5 L900.0 1145.4 L902.0 1146.0 L904.0 1145.1 L906.0 1144.3 L908.0 1144.0 L910.0 1144.4 L912.0 1144.6 L914.0 1144.7 L916.0 1144.3 L918.0 1144.2 L920.0 1144.2 L922.0 1143.6 L924.0 1143.8 L926.0 1143.8 L928.0 1143.4 L930.0 1143.2 L932.0 1143.5 L934.0 1143.6 L935.9 1143.1 L936.0 1143.1 L938.0 1142.2 L940.0 1142.6 L942.0 1142.6 L944.0 1142.8 L946.0 1142.3 L948.0 1142.2 L950.0 1142.6 L952.0 1142.5 L954.0 1142.0 L956.0 1141.5 L958.0 1141.3 L960.0 1141.8 L962.0 1141.2 L964.0 1141.3 L966.0 1141.2 L968.0 1141.2 L970.0 1141.1 L972.0 1140.5 L974.0 1140.5 L976.0 1140.7 L978.0 1140.6 L980.0 1140.0 L982.0 1141.1 L984.0 1139.8 L986.0 1140.6 L988.0 1139.6 L990.0 1140.4 L991.0 1139.4 L992.0 1140.3 L993.0 1140.0 L994.0 1140.0 L995.0 1140.2 L996.0 1139.7 L997.0 1140.0 L998.0 1140.0 L999.0 1139.9 L1000.0 1139.3 L1001.0 1141.0 L1002.0 1138.1 L1003.0 1138.4 L1004.0 1138.4 L1005.0 1141.0 L1006.0 1138.9 L1007.0 1139.0 L1008.0 1139.0 L1009.0 1139.4 L1010.0 1139.4 L1011.0 1139.2 L1012.0 1138.2 L1013.0 1140.0 L1014.0 1139.6 L1015.0 1140.9 L1016.0 1139.9 L1017.0 1139.5 L1018.0 1138.2 L1019.0 1139.6 L1020.0 1140.0 L1021.0 1141.0 L1022.0 1139.8 L1023.0 1140.2 L1024.0 1140.0 L1025.0 1140.9 L1026.0 1140.4 L1027.0 1139.4 L1028.0 1138.0 L1029.0 1140.8 L1030.0 1139.3 L1031.0 1139.3 L1032.0 1138.5 L1033.0 1137.9 L1034.0 1137.6 L1035.0 1139.4 L1036.0 1139.0 L1037.0 1139.4 L1038.0 1140.1 L1039.0 1138.4 L1040.0 1139.2 L1041.0 1138.4 L1042.0 1138.1 L1043.0 1136.8 L1044.0 1138.1 L1045.0 1139.7 L1046.0 1138.2 L1047.0 1138.9 L1048.0 1138.7 L1049.0 1140.4 L1050.0 1139.9 L1051.0 1137.9 L1052.0 1138.1 L1053.0 1139.4 L1054.0 1138.6 L1055.0 1138.4 L1056.0 1139.4 L1057.0 1138.8 L1058.0 1138.4 L1059.0 1140.9 L1060.0 1138.9 L1061.0 1135.8 L1062.0 1138.7 L1063.0 1138.5 L1064.0 1141.0 L1065.0 1138.6 L1066.0 1136.9 L1067.0 1138.6 L1068.0 1135.8 L1069.0 1137.3 L1070.0 1138.5 L1071.0 1136.4 L1072.0 1134.4 L1073.0 1136.0 L1074.0 1136.4 L1075.0 1138.8 L1076.0 1137.8 L1077.0 1137.0 L1078.0 1137.7 L1079.0 1136.2 L1080.0 1137.9 L1081.0 1136.7 L1082.0 1138.8 L1083.0 1138.2 L1084.0 1140.3 L1085.0 1138.9 L1086.0 1137.4 L1086.9 1138.0 L1087.0 1136.5 L1088.0 1142.2 L1088.9 1144.8 L1089.0 1145.9 L1090.0 1143.5 L1090.9 1138.1 L1091.0 1137.1 L1092.0 1135.8 L1093.0 1134.9 L1094.0 1136.3 L1095.0 1137.7 L1096.0 1137.6 L1097.0 1137.6 L1098.0 1138.1 L1099.0 1138.7 L1099.2 1138.3 L1100.0 1132.5 L1101.0 1130.6 L1101.2 1130.5 L1102.0 1132.8 L1103.0 1137.7 L1103.2 1138.4 L1104.0 1137.5 L1105.0 1135.1 L1106.0 1139.1 L1107.0 1137.5 L1108.0 1138.1 L1109.0 1138.8 L1110.0 1138.5 L1111.0 1138.4 L1112.0 1139.0 L1113.0 1139.0 L1114.0 1136.7 L1115.0 1136.3 L1116.0 1139.7 L1117.0 1137.0 L1118.0 1142.0 L1119.0 1136.4 L1120.0 1138.5 L1121.0 1138.1 L1122.0 1138.7 L1123.0 1136.6 L1124.0 1138.7 L1125.0 1141.5 L1126.0 1137.2 L1127.0 1134.3 L1128.0 1139.2 L1129.0 1138.8 L1130.0 1139.2 L1131.0 1136.6 L1132.0 1138.7 L1133.0 1139.5 L1134.0 1137.1 L1135.0 1138.0 L1136.0 1138.8 L1137.0 1139.2 L1138.0 1137.5 L1139.0 1138.2 L1140.0 1141.3 L1141.0 1141.3 L1142.0 1136.1 L1143.0 1141.5 L1144.0 1137.2 L1145.0 1139.6 L1146.0 1135.7 L1147.0 1137.5 L1148.0 1136.7 L1149.0 1139.2 L1150.0 1138.0 L1151.0 1138.1 L1152.0 1138.5 L1153.0 1138.5 L1154.0 1138.1 L1155.0 1139.3 L1156.0 1138.0 L1157.0 1137.6 L1158.0 1136.7 L1159.0 1136.2 L1160.0 1136.9 L1161.0 1138.4 L1162.0 1138.0 L1163.0 1134.7 L1164.0 1128.5 L1165.0 1132.8 L1166.0 1138.0 L1167.0 1141.1 L1168.0 1139.9 L1169.0 1137.8 L1170.0 1138.4 L1171.0 1137.7 L1172.0 1134.6 L1173.0 1139.1 L1174.0 1138.1 L1175.0 1134.9 L1176.0 1139.2 L1177.0 1136.8 L1178.0 1137.3 L1179.0 1134.8 L1180.0 1137.7 L1181.0 1138.5 L1182.0 1137.0 L1182.5 1138.0 L1183.0 1138.8 L1184.0 1140.4 L1184.5 1145.0 L1185.0 1144.5 L1186.0 1138.7 L1186.5 1138.0 L1187.0 1137.7 L1188.0 1138.9 L1189.0 1139.5 L1190.0 1138.0 L1191.0 1137.6 L1192.0 1139.3 L1193.0 1140.8 L1194.0 1135.9 L1195.0 1137.9 L1196.0 1134.9 L1197.0 1138.3 L1198.0 1140.0 L1199.0 1137.4 L1200.0 1135.7 L1201.0 1136.7 L1202.0 1138.3 L1203.0 1135.0 L1204.0 1135.1 L1205.0 1138.3 L1206.0 1135.2 L1207.0 1137.6 L1208.0 1135.6 L1209.0 1134.6 L1210.0 1138.7 L1211.0 1139.2 L1212.0 1135.8 L1213.0 1141.0 L1214.0 1137.3 L1215.0 1137.9 L1216.0 1137.2 L1216.6 1137.1 L1217.0 1134.2 L1218.0 1133.0 L1218.6 1130.0 L1219.0 1130.7 L1220.0 1136.1 L1220.6 1137.0 L1221.0 1137.0 L1222.0 1136.1 L1223.0 1140.8 L1224.0 1137.5 L1225.0 1136.3 L1226.0 1137.9 L1227.0 1134.6 L1228.0 1137.3 L1229.0 1141.3 L1230.0 1135.5 L1231.0 1137.4 L1232.0 1134.5 L1233.0 1136.6 L1234.0 1138.4 L1235.0 1134.7 L1236.0 1134.8 L1237.0 1138.3 L1238.0 1136.8 L1239.0 1137.4 L1240.0 1136.8 L1241.0 1135.1 L1242.0 1134.7 L1243.0 1134.5 L1244.0 1136.6 L1245.0 1134.8 L1246.0 1134.4 L1247.0 1135.5 L1248.0 1135.8 L1249.0 1136.2 L1250.0 1136.0 L1251.0 1134.2 L1252.0 1137.0 L1253.0 1134.9 L1254.0 1135.8 L1255.0 1135.6 L1256.0 1134.7 L1257.0 1135.9 L1258.0 1135.8 L1259.0 1136.5 L1260.0 1137.1 L1261.0 1137.3 L1262.0 1136.2 L1263.0 1135.9 L1264.0 1134.9 L1265.0 1133.8 L1266.0 1135.5 L1267.0 1134.6 L1268.0 1134.9 L1269.0 1134.7 L1270.0 1135.2 L1271.0 1135.5 L1272.0 1134.8 L1273.0 1137.3 L1274.0 1136.0 L1275.0 1134.8 L1276.0 1135.7 L1277.0 1136.7 L1278.0 1134.5 L1279.0 1135.9 L1280.0 1135.4 L1281.0 1136.1 L1282.0 1135.8 L1283.0 1136.6 L1284.0 1137.1 L1285.0 1137.5 L1286.0 1135.9 L1287.0 1138.2 L1288.0 1137.9 L1289.0 1137.7 L1290.0 1138.6 L1291.0 1140.5 L1292.0 1139.3 L1293.0 1139.2 L1294.0 1141.1 L1295.0 1140.8 L1296.0 1142.2 L1297.0 1142.4 L1298.0 1144.0 L1299.0 1142.9 L1300.0 1144.1 L1302.0 1146.0 L1304.0 1147.8 L1305.0 1148.2 L1306.0 1151.0 L1308.0 1165.1 L1310.0 1182.7 L1311.0 1190.5 L1312.0 1198.7 L1314.0 1214.7 L1315.0 1218.6 L1316.0 1219.7 L1318.0 1220.2 L1320.0 1219.6 L1322.0 1220.8 L1323.0 1220.6 L1324.0 1220.1 L1326.0 1217.9 L1328.0 1214.5 L1329.0 1212.6 L1330.0 1209.5 L1332.0 1198.1 L1334.0 1185.7 L1335.2 1180.4 L1336.0 1177.6 L1338.0 1171.0 L1340.0 1165.7 L1342.0 1161.0 L1343.3 1160.3 L1344.0 1159.5 L1346.0 1158.9 L1348.0 1158.0 L1350.0 1158.0 L1352.0 1157.3 L1354.0 1157.0 L1355.3 1156.3 L1356.0 1155.8 L1358.0 1154.5 L1360.0 1152.2 L1362.0 1149.9 L1364.0 1146.8 L1366.0 1143.6 L1368.0 1141.5 L1370.0 1139.3 L1372.0 1137.3 L1374.0 1136.7 L1375.4 1136.2 L1376.0 1136.4 L1378.0 1136.7 L1380.0 1136.2 L1382.0 1136.4 L1384.0 1136.9 L1386.0 1137.4 L1387.5 1137.2 L1388.0 1137.1 L1390.0 1138.9 L1392.0 1140.9 L1394.0 1142.6 L1395.5 1143.2 L1396.0 1143.5 L1398.0 1143.2 L1400.0 1142.6 L1402.0 1141.5 L1404.0 1140.9 L1406.0 1139.5 L1408.0 1139.4 L1410.0 1138.2 L1411.6 1138.2 L1412.0 1138.1 L1414.0 1138.0 L1416.0 1137.4 L1418.0 1137.2 L1420.0 1136.6 L1422.0 1137.4 L1424.0 1136.0 L1426.0 1136.1 L1427.7 1136.2 L1428.0 1136.2 L1430.0 1138.0 L1432.0 1139.0 L1434.0 1141.9 L1435.7 1144.2 L1436.0 1144.9 L1438.0 1147.6 L1440.0 1153.0 L1442.0 1157.9 L1443.8 1162.3 L1444.0 1163.3 L1446.0 1168.5 L1448.0 1173.8 L1450.0 1179.7 L1451.8 1184.4 L1452.0 1184.8 L1454.0 1190.4 L1456.0 1196.4 L1458.0 1202.1 L1459.8 1206.5 L1460.0 1206.9 L1462.0 1212.4 L1464.0 1217.4 L1466.0 1220.4 L1466.4 1219.9 L1468.0 1219.9 L1470.0 1219.8 L1472.0 1220.1 L1474.0 1220.0 L1474.5 1219.9 L1476.0 1218.3 L1478.0 1213.0 L1479.3 1208.6 L1480.0 1206.4 L1482.0 1199.9 L1484.0 1193.7 L1485.7 1191.0 L1486.0 1191.5 L1488.0 1192.4 L1489.7 1195.8 L1490.0 1196.7 L1492.0 1213.3 L1493.8 1223.1 L1494.0 1223.1 L1496.0 1221.2 L1498.0 1216.8 L1500.0 1212.7 L1500.2 1211.9 L1502.0 1207.8 L1504.0 1202.5 L1506.0 1199.3 L1506.6 1199.0 L1508.0 1200.1 L1510.0 1202.1 L1512.0 1204.0 L1513.0 1205.4 L1514.0 1205.6 L1516.0 1207.8 L1518.0 1208.3 L1520.0 1209.2 L1522.0 1208.4 L1524.0 1205.8 L1526.0 1203.2 L1528.0 1200.0 L1530.0 1197.6 L1531.4 1197.8 L1532.0 1198.3 L1534.0 1198.8 L1536.0 1200.5 L1536.7 1201.3 L1538.0 1204.9 L1540.0 1214.1 L1542.0 1226.1 L1543.7 1234.7 L1544.0 1236.0 L1546.0 1245.7 L1548.0 1254.8 L1549.9 1261.0 L1550.0 1261.1 L1552.0 1266.5 L1554.0 1270.7 L1556.0 1273.0 L1556.9 1273.4 L1558.0 1273.3 L1560.0 1273.7 L1562.0 1273.4 L1562.2 1273.4 L1564.0 1270.8 L1566.0 1263.4 L1567.5 1256.7 L1568.0 1254.2 L1570.0 1240.0 L1572.0 1226.1 L1572.7 1221.5 L1574.0 1213.8 L1576.0 1202.1 L1577.1 1197.8 L1578.0 1194.8 L1580.0 1190.0 L1582.0 1185.4 L1583.3 1183.7 L1584.0 1183.2 L1586.0 1181.0 L1588.0 1179.6 L1590.0 1177.1 L1590.3 1176.7 L1592.0 1173.9 L1594.0 1169.8 L1596.0 1166.0 L1598.0 1162.1 L1600.0 1158.8 L1601.5 1158.8 L1602.0 1160.1 L1604.0 1160.7 L1605.5 1165.0 L1606.0 1166.8 L1607.9 1190.8 L1608.0 1192.7 L1609.6 1221.5 L1610.0 1223.3 L1612.0 1222.6 L1614.0 1223.3 L1616.0 1224.8 L1618.0 1227.5 L1620.0 1231.1 L1622.0 1232.6 L1623.7 1237.3 L1624.0 1238.3 L1626.0 1242.3 L1628.0 1248.6 L1628.1 1247.9 L1630.0 1261.5 L1630.7 1265.4 L1632.0 1275.5 L1634.0 1288.2 L1634.2 1286.5 L1636.0 1289.1 L1638.0 1290.9 L1640.0 1293.5 L1640.4 1291.8 L1642.0 1290.9 L1644.0 1287.2 L1644.8 1286.5 L1646.0 1284.0 L1648.0 1280.5 L1650.0 1276.9 L1652.0 1272.9 L1654.0 1272.5 L1656.0 1269.3 L1658.0 1268.1 L1660.0 1264.4 L1662.0 1264.4 L1662.4 1264.6 L1664.0 1265.2 L1666.0 1269.8 L1668.0 1273.0 L1669.4 1273.4 L1670.0 1274.2 L1672.0 1273.7 L1672.9 1272.5 L1674.0 1267.6 L1676.0 1251.0 L1678.0 1231.8 L1678.2 1230.3 L1680.0 1218.8 L1681.9 1210.0 L1682.0 1210.3 L1684.0 1203.1 L1686.0 1200.6 L1688.0 1198.2 L1690.0 1195.8 L1692.0 1192.3 L1694.0 1189.4 L1696.0 1189.5 L1698.0 1187.7 L1700.0 1189.3 L1702.0 1191.7 L1704.0 1191.2 L1704.4 1192.6 L1706.0 1194.1 L1708.0 1203.0 L1709.2 1203.8 L1710.0 1203.3 L1712.0 1201.2 L1714.0 1200.6 L1716.0 1198.0 L1717.3 1197.4 L1718.0 1195.5 L1720.0 1196.9 L1722.0 1194.9 L1724.0 1196.7 L1725.3 1195.8 L1726.0 1194.2 L1728.0 1192.5 L1730.0 1192.6 L1732.0 1190.2 L1734.0 1186.2 L1736.0 1182.5 L1736.6 1182.9 L1738.0 1181.2 L1740.0 1176.9 L1742.0 1173.3 L1744.0 1169.9 L1745.0 1170.2 L1746.0 1168.3 L1748.0 1174.4 L1750.0 1185.0 L1752.0 1191.1 L1752.6 1195.3 L1754.0 1207.9 L1756.0 1227.0 L1756.3 1228.0 L1758.0 1231.2 L1760.0 1231.8 L1762.0 1231.7 L1764.0 1235.8 L1765.1 1233.0 L1766.0 1233.1 L1768.0 1233.0 L1770.0 1230.7 L1772.0 1228.2 L1773.9 1229.2 L1774.0 1229.7 L1776.0 1221.1 L1777.7 1214.2 L1778.0 1213.7 L1780.0 1203.8 L1782.0 1205.4 L1782.7 1201.6 L1784.0 1199.7 L1786.0 1198.1 L1788.0 1192.8 L1790.0 1193.2 L1791.5 1192.8 L1792.0 1193.1 L1794.0 1198.1 L1796.0 1202.9 L1798.0 1202.6 L1799.0 1206.6 L1800.0 1206.7 L1802.0 1205.6 L1804.0 1203.8 L1805.3 1204.1 L1806.0 1204.6 L1808.0 1207.4 L1810.0 1211.9 L1812.0 1212.6 L1814.0 1215.9 L1815.3 1218.0 L1816.0 1218.0 L1818.0 1219.0 L1820.0 1216.4 L1822.0 1217.9 L1824.0 1215.9 L1825.4 1218.0 L1826.0 1218.4 L1828.0 1223.6 L1830.0 1229.7 L1830.4 1229.2 L1832.0 1231.3 L1834.0 1227.8 L1836.0 1229.4 L1838.0 1225.6 L1840.0 1227.4 L1840.4 1226.7 L1846.7 1229.2 L1847.3 1247.4 L1848.9 1243.1 L1851.1 1234.1 L1853.3 1247.7 L1855.5 1235.9 L1857.4 1235.4 L1857.7 1248.6 L1858.6 1250.5 L1859.9 1240.1 L1862.1 1248.8 L1864.3 1241.7 L1866.2 1241.4 L1866.5 1254.0 L1867.4 1256.2 L1868.7 1245.7 L1870.9 1259.0 L1873.1 1250.8 L1873.7 1251.0 L1874.9 1269.8 L1875.3 1266.3 L1877.5 1257.4 L1878.7 1280.5 L1879.7 1263.4 L1881.9 1278.3 L1882.5 1258.4 L1883.7 1283.5 L1884.1 1263.3 L1886.3 1278.3 L1888.5 1252.6 L1888.8 1249.4 L1890.0 1287.8 L1890.7 1278.1 L1892.6 1247.3 L1892.9 1251.3 L1893.8 1280.5 L1895.1 1276.1 L1897.3 1249.7 L1897.6 1249.3 L1898.8 1282.3 L1899.5 1279.0 L1901.7 1252.8 L1902.6 1246.3 L1903.8 1276.3 L1903.9 1268.2 L1906.1 1238.0 L1906.4 1225.8 L1907.6 1267.9 L1908.3 1257.1 L1910.5 1237.7 L1912.7 1236.7 L1913.9 1271.8 L1914.9 1276.7 L1915.2 1241.2 L1916.4 1281.9 L1917.1 1254.6 L1919.3 1266.1 L1920.2 1254.2" fill="none" stroke="#ea0000" stroke-width="5.6" stroke-linejoin="round" stroke-linecap="round"/>
<text transform="translate(243.8,141.0) scale(1,1.04)" font-size="74">16%</text>
<text transform="translate(239.9,341.0) scale(1,1.04)" font-size="74">14%</text>
<text transform="translate(240.1,554.9) scale(1,1.04)" font-size="74">12%</text>
<text transform="translate(235.7,737.0) scale(1,1.04)" font-size="74">10%</text>
<text transform="translate(234.8,913.0) scale(1,1.04)" font-size="74">0%</text>
<text transform="translate(238.4,1098.9) scale(1,1.04)" font-size="74">PVA</text>
<text transform="translate(404.2,1157.6) scale(1,1.04)" font-size="74">3302</text>
<text transform="translate(726.4,1104.5) scale(1,1.04)" font-size="74">2937</text>
<text transform="translate(1101.7,1289.5) scale(1,1.04)" font-size="74">1732</text>
<text transform="translate(1287.9,1316.0) scale(1,1.04)" font-size="74">1418</text>
<text transform="translate(1478.7,1140.7) scale(1,1.04)" font-size="74">1244</text>
<text transform="translate(1620.8,1173.0) scale(1,1.04)" font-size="74">1090</text>
<text transform="translate(1485.8,1319.5) scale(1,1.04)" font-size="74">1374</text>
<text transform="translate(494.7,1319.0) scale(1,1.04)" font-size="74">OH</text>
<text transform="translate(717.1,1276.0) scale(1,1.04)" font-size="74">CH</text>
<text transform="translate(1129.3,1219.5) scale(1,1.04)" font-size="74">C</text>
<text transform="translate(1212.8,1219.5) scale(1,1.04)" font-size="74">O</text>
<text x="461.0" y="1321.5" font-size="65" font-weight="normal">−</text>
<text x="682.6" y="1278.1" font-size="65" font-weight="normal">−</text>
<text x="1095.3" y="1222.2" font-size="65" font-weight="normal">−</text>
<text x="1179.3" y="1222.2" font-size="65" font-weight="normal">−</text>
<line x1="530.8" y1="1180.0" x2="537.7" y2="1235.0" stroke="#000" stroke-width="5.2"/><polygon points="540.8,1259.3 526.3,1225.9 546.5,1223.3" fill="#000"/>
<line x1="766.5" y1="1114.5" x2="723.2" y2="1198.6" stroke="#000" stroke-width="5.2"/><polygon points="712.0,1220.4 718.9,1184.6 737.1,1193.9" fill="#000"/>
<line x1="1260.0" y1="1253.8" x2="1302.7" y2="1232.3" stroke="#000" stroke-width="5.2"/><polygon points="1324.6,1221.3 1297.9,1246.1 1288.7,1227.9" fill="#000"/>
<line x1="1428.5" y1="1281.9" x2="1456.7" y2="1237.1" stroke="#000" stroke-width="5.2"/><polygon points="1469.7,1216.4 1459.7,1251.5 1442.4,1240.6" fill="#000"/>
<line x1="1555.6" y1="1177.1" x2="1557.2" y2="1245.3" stroke="#000" stroke-width="5.2"/><polygon points="1557.8,1269.8 1546.8,1235.1 1567.2,1234.6" fill="#000"/>
<line x1="1529.1" y1="1268.1" x2="1510.0" y2="1244.5" stroke="#000" stroke-width="5.2"/><polygon points="1494.6,1225.4 1524.5,1246.2 1508.7,1259.0" fill="#000"/>
<line x1="1655.8" y1="1213.6" x2="1645.5" y2="1262.5" stroke="#000" stroke-width="5.2"/><polygon points="1640.4,1286.5 1637.7,1250.1 1657.6,1254.4" fill="#000"/>
<line x1="548.2" y1="57.4" x2="548.2" y2="1329.5" stroke="#ff0000" stroke-width="7.9" stroke-dasharray="31 22.78"/>
<line x1="719.0" y1="57.4" x2="719.0" y2="1329.5" stroke="#ff0000" stroke-width="7.9" stroke-dasharray="31 22.80"/>
<line x1="1321.2" y1="53.4" x2="1321.2" y2="1329.5" stroke="#ff0000" stroke-width="7.9" stroke-dasharray="31 23.07"/>
<line x1="1468.6" y1="53.4" x2="1468.6" y2="1329.5" stroke="#ff0000" stroke-width="7.9" stroke-dasharray="31 22.72"/>
<rect x="180.0" y="42.0" width="1753.5" height="1291.0" fill="none" stroke="#000" stroke-width="5.8"/>
<line x1="180.0" y1="1333.0" x2="180.0" y2="1358" stroke="#000" stroke-width="5.8"/>
<line x1="430.5" y1="1333.0" x2="430.5" y2="1358" stroke="#000" stroke-width="5.8"/>
<line x1="681.0" y1="1333.0" x2="681.0" y2="1358" stroke="#000" stroke-width="5.8"/>
<line x1="931.5" y1="1333.0" x2="931.5" y2="1358" stroke="#000" stroke-width="5.8"/>
<line x1="1182.0" y1="1333.0" x2="1182.0" y2="1358" stroke="#000" stroke-width="5.8"/>
<line x1="1432.5" y1="1333.0" x2="1432.5" y2="1358" stroke="#000" stroke-width="5.8"/>
<line x1="1683.0" y1="1333.0" x2="1683.0" y2="1358" stroke="#000" stroke-width="5.8"/>
<line x1="1933.5" y1="1333.0" x2="1933.5" y2="1358" stroke="#000" stroke-width="5.8"/>
<line x1="305.2" y1="1333.0" x2="305.2" y2="1345.5" stroke="#000" stroke-width="5.8"/>
<line x1="555.8" y1="1333.0" x2="555.8" y2="1345.5" stroke="#000" stroke-width="5.8"/>
<line x1="806.2" y1="1333.0" x2="806.2" y2="1345.5" stroke="#000" stroke-width="5.8"/>
<line x1="1056.8" y1="1333.0" x2="1056.8" y2="1345.5" stroke="#000" stroke-width="5.8"/>
<line x1="1307.2" y1="1333.0" x2="1307.2" y2="1345.5" stroke="#000" stroke-width="5.8"/>
<line x1="1557.8" y1="1333.0" x2="1557.8" y2="1345.5" stroke="#000" stroke-width="5.8"/>
<line x1="1808.2" y1="1333.0" x2="1808.2" y2="1345.5" stroke="#000" stroke-width="5.8"/>
<text transform="translate(158.2,1433.3) scale(1,1.04)" font-size="74" text-anchor="middle">4000</text>
<text transform="translate(408.7,1433.3) scale(1,1.04)" font-size="74" text-anchor="middle">3500</text>
<text transform="translate(659.2,1433.3) scale(1,1.04)" font-size="74" text-anchor="middle">3000</text>
<text transform="translate(909.7,1433.3) scale(1,1.04)" font-size="74" text-anchor="middle">2500</text>
<text transform="translate(1160.2,1433.3) scale(1,1.04)" font-size="74" text-anchor="middle">2000</text>
<text transform="translate(1410.7,1433.3) scale(1,1.04)" font-size="74" text-anchor="middle">1500</text>
<text transform="translate(1661.2,1433.3) scale(1,1.04)" font-size="74" text-anchor="middle">1000</text>
<text transform="translate(1911.7,1433.3) scale(1,1.04)" font-size="74" text-anchor="middle">500</text>
<text x="704.8" y="1549" font-size="79">Wavenumbers (cm<tspan font-size="56" dy="-32">-1</tspan><tspan dy="32">)</tspan></text>
<text transform="translate(94,1032) rotate(-90)" x="0" y="0" font-size="79">Transmittance (a.u.)</text>
</g></svg></body></html>
